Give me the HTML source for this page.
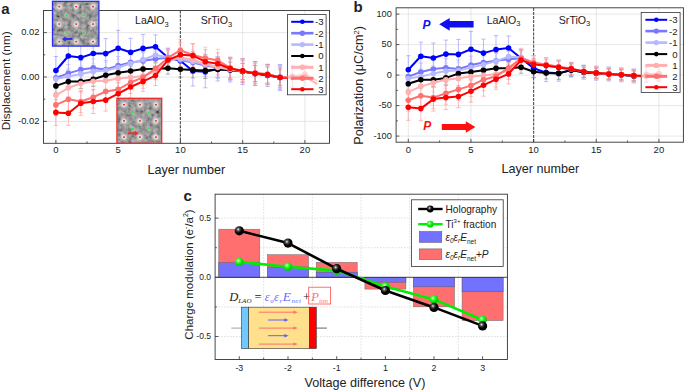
<!DOCTYPE html><html><head><meta charset="utf-8"><style>html,body{margin:0;padding:0;background:#fff;}svg{display:block;}svg{font-family:"Liberation Sans",sans-serif;}text:not([fill]){fill:#222;}</style></head><body>
<svg width="685" height="391" viewBox="0 0 685 391">
<rect width="685" height="391" fill="#fff"/>
<defs>
<filter id="noise" x="0" y="0" width="100%" height="100%"><feTurbulence type="fractalNoise" baseFrequency="0.28" numOctaves="2" seed="3" result="t"/><feColorMatrix type="matrix" values="0.33 0.33 0.33 0 0  0.33 0.33 0.33 0 0  0.33 0.33 0.33 0 0  0 0 0 0 1"/><feComponentTransfer><feFuncR type="linear" slope="2.2" intercept="-0.6"/><feFuncG type="linear" slope="2.2" intercept="-0.6"/><feFuncB type="linear" slope="2.2" intercept="-0.6"/></feComponentTransfer></filter>
<radialGradient id="atom"><stop offset="0" stop-color="#fff" stop-opacity="0.95"/><stop offset="0.3" stop-color="#f4f4f4" stop-opacity="0.7"/><stop offset="0.6" stop-color="#ccc" stop-opacity="0.3"/><stop offset="1" stop-color="#888" stop-opacity="0"/></radialGradient>
<radialGradient id="ballK" cx="0.38" cy="0.35" r="0.65"><stop offset="0" stop-color="#f0f0f0"/><stop offset="0.25" stop-color="#555"/><stop offset="0.6" stop-color="#000"/><stop offset="1" stop-color="#000"/></radialGradient>
<radialGradient id="ballG" cx="0.38" cy="0.35" r="0.65"><stop offset="0" stop-color="#d8ffd8"/><stop offset="0.3" stop-color="#40ff40"/><stop offset="0.7" stop-color="#00e000"/><stop offset="1" stop-color="#00d000"/></radialGradient>
<clipPath id="clipA"><rect x="43.5" y="10.5" width="286" height="132.8"/></clipPath>
<clipPath id="clipB"><rect x="396.1" y="7.8" width="287.3" height="134.4"/></clipPath>
</defs>
<line x1="55.9" y1="10.5" x2="55.9" y2="143.3" stroke="#dcdcdc" stroke-width="0.7"/>
<line x1="118.15" y1="10.5" x2="118.15" y2="143.3" stroke="#dcdcdc" stroke-width="0.7"/>
<line x1="242.65" y1="10.5" x2="242.65" y2="143.3" stroke="#dcdcdc" stroke-width="0.7"/>
<line x1="304.9" y1="10.5" x2="304.9" y2="143.3" stroke="#dcdcdc" stroke-width="0.7"/>
<line x1="43.5" y1="32.6" x2="329.5" y2="32.6" stroke="#dcdcdc" stroke-width="0.7"/>
<line x1="43.5" y1="77" x2="329.5" y2="77" stroke="#dcdcdc" stroke-width="0.7"/>
<line x1="43.5" y1="121.4" x2="329.5" y2="121.4" stroke="#dcdcdc" stroke-width="0.7"/>
<line x1="180.4" y1="10.5" x2="180.4" y2="143.3" stroke="#5a5a5a" stroke-width="1.2" stroke-dasharray="3,1.1"/>
<g clip-path="url(#clipA)">
<path d="M55.9 56.5V84.5M53.7 56.5H58.1M53.7 84.5H58.1" stroke="#8080ff" stroke-width="0.7" fill="none" opacity="0.75"/>
<path d="M68.35 42V70M66.15 42H70.55M66.15 70H70.55" stroke="#8080ff" stroke-width="0.7" fill="none" opacity="0.75"/>
<path d="M80.8 42.6V72.6M78.6 42.6H83M78.6 72.6H83" stroke="#8080ff" stroke-width="0.7" fill="none" opacity="0.75"/>
<path d="M93.25 39.5V67.5M91.05 39.5H95.45M91.05 67.5H95.45" stroke="#8080ff" stroke-width="0.7" fill="none" opacity="0.75"/>
<path d="M105.7 38.6V68.6M103.5 38.6H107.9M103.5 68.6H107.9" stroke="#8080ff" stroke-width="0.7" fill="none" opacity="0.75"/>
<path d="M118.15 30.3V66.3M115.95 30.3H120.35M115.95 66.3H120.35" stroke="#8080ff" stroke-width="0.7" fill="none" opacity="0.75"/>
<path d="M130.6 38.3V66.3M128.4 38.3H132.8M128.4 66.3H132.8" stroke="#8080ff" stroke-width="0.7" fill="none" opacity="0.75"/>
<path d="M143.05 34.4V62.4M140.85 34.4H145.25M140.85 62.4H145.25" stroke="#8080ff" stroke-width="0.7" fill="none" opacity="0.75"/>
<path d="M155.5 34.8V58.8M153.3 34.8H157.7M153.3 58.8H157.7" stroke="#8080ff" stroke-width="0.7" fill="none" opacity="0.75"/>
<path d="M167.95 48.5V66.5M165.75 48.5H170.15M165.75 66.5H170.15" stroke="#8080ff" stroke-width="0.7" fill="none" opacity="0.75"/>
<path d="M180.4 50.8V70.8M178.2 50.8H182.6M178.2 70.8H182.6" stroke="#8080ff" stroke-width="0.7" fill="none" opacity="0.75"/>
<path d="M192.85 56V86M190.65 56H195.05M190.65 86H195.05" stroke="#8080ff" stroke-width="0.7" fill="none" opacity="0.75"/>
<path d="M205.3 55.8V87.8M203.1 55.8H207.5M203.1 87.8H207.5" stroke="#8080ff" stroke-width="0.7" fill="none" opacity="0.75"/>
<path d="M217.75 57V81M215.55 57H219.95M215.55 81H219.95" stroke="#8080ff" stroke-width="0.7" fill="none" opacity="0.75"/>
<path d="M230.2 58V82M228 58H232.4M228 82H232.4" stroke="#8080ff" stroke-width="0.7" fill="none" opacity="0.75"/>
<path d="M242.65 58.5V84.5M240.45 58.5H244.85M240.45 84.5H244.85" stroke="#8080ff" stroke-width="0.7" fill="none" opacity="0.75"/>
<path d="M255.1 61.5V85.5M252.9 61.5H257.3M252.9 85.5H257.3" stroke="#8080ff" stroke-width="0.7" fill="none" opacity="0.75"/>
<path d="M267.55 64.5V86.5M265.35 64.5H269.75M265.35 86.5H269.75" stroke="#8080ff" stroke-width="0.7" fill="none" opacity="0.75"/>
<path d="M280 64.5V90.5M277.8 64.5H282.2M277.8 90.5H282.2" stroke="#8080ff" stroke-width="0.7" fill="none" opacity="0.75"/>
<path d="M292.45 70V86M290.25 70H294.65M290.25 86H294.65" stroke="#8080ff" stroke-width="0.7" fill="none" opacity="0.75"/>
<path d="M304.9 70V86M302.7 70H307.1M302.7 86H307.1" stroke="#8080ff" stroke-width="0.7" fill="none" opacity="0.75"/>
<path d="M55.9 68.8V86.8M53.7 68.8H58.1M53.7 86.8H58.1" stroke="#a0a0ff" stroke-width="0.7" fill="none" opacity="0.75"/>
<path d="M68.35 64.4V82.4M66.15 64.4H70.55M66.15 82.4H70.55" stroke="#a0a0ff" stroke-width="0.7" fill="none" opacity="0.75"/>
<path d="M80.8 60.6V78.6M78.6 60.6H83M78.6 78.6H83" stroke="#a0a0ff" stroke-width="0.7" fill="none" opacity="0.75"/>
<path d="M93.25 58.9V76.9M91.05 58.9H95.45M91.05 76.9H95.45" stroke="#a0a0ff" stroke-width="0.7" fill="none" opacity="0.75"/>
<path d="M105.7 60.5V78.5M103.5 60.5H107.9M103.5 78.5H107.9" stroke="#a0a0ff" stroke-width="0.7" fill="none" opacity="0.75"/>
<path d="M118.15 56.6V74.6M115.95 56.6H120.35M115.95 74.6H120.35" stroke="#a0a0ff" stroke-width="0.7" fill="none" opacity="0.75"/>
<path d="M130.6 53.4V71.4M128.4 53.4H132.8M128.4 71.4H132.8" stroke="#a0a0ff" stroke-width="0.7" fill="none" opacity="0.75"/>
<path d="M143.05 52.7V68.7M140.85 52.7H145.25M140.85 68.7H145.25" stroke="#a0a0ff" stroke-width="0.7" fill="none" opacity="0.75"/>
<path d="M155.5 51V67M153.3 51H157.7M153.3 67H157.7" stroke="#a0a0ff" stroke-width="0.7" fill="none" opacity="0.75"/>
<path d="M167.95 49.8V65.8M165.75 49.8H170.15M165.75 65.8H170.15" stroke="#a0a0ff" stroke-width="0.7" fill="none" opacity="0.75"/>
<path d="M180.4 51.1V69.1M178.2 51.1H182.6M178.2 69.1H182.6" stroke="#a0a0ff" stroke-width="0.7" fill="none" opacity="0.75"/>
<path d="M192.85 51.5V73.5M190.65 51.5H195.05M190.65 73.5H195.05" stroke="#a0a0ff" stroke-width="0.7" fill="none" opacity="0.75"/>
<path d="M205.3 54.5V76.5M203.1 54.5H207.5M203.1 76.5H207.5" stroke="#a0a0ff" stroke-width="0.7" fill="none" opacity="0.75"/>
<path d="M217.75 56.6V78.6M215.55 56.6H219.95M215.55 78.6H219.95" stroke="#a0a0ff" stroke-width="0.7" fill="none" opacity="0.75"/>
<path d="M230.2 58.5V80.5M228 58.5H232.4M228 80.5H232.4" stroke="#a0a0ff" stroke-width="0.7" fill="none" opacity="0.75"/>
<path d="M242.65 60.2V82.2M240.45 60.2H244.85M240.45 82.2H244.85" stroke="#a0a0ff" stroke-width="0.7" fill="none" opacity="0.75"/>
<path d="M255.1 63.2V83.2M252.9 63.2H257.3M252.9 83.2H257.3" stroke="#a0a0ff" stroke-width="0.7" fill="none" opacity="0.75"/>
<path d="M267.55 64.8V84.8M265.35 64.8H269.75M265.35 84.8H269.75" stroke="#a0a0ff" stroke-width="0.7" fill="none" opacity="0.75"/>
<path d="M280 66.3V88.3M277.8 66.3H282.2M277.8 88.3H282.2" stroke="#a0a0ff" stroke-width="0.7" fill="none" opacity="0.75"/>
<path d="M292.45 69.5V85.5M290.25 69.5H294.65M290.25 85.5H294.65" stroke="#a0a0ff" stroke-width="0.7" fill="none" opacity="0.75"/>
<path d="M304.9 70V86M302.7 70H307.1M302.7 86H307.1" stroke="#a0a0ff" stroke-width="0.7" fill="none" opacity="0.75"/>
<path d="M55.9 71V87M53.7 71H58.1M53.7 87H58.1" stroke="#c8c8ff" stroke-width="0.7" fill="none" opacity="0.75"/>
<path d="M68.35 68.5V84.5M66.15 68.5H70.55M66.15 84.5H70.55" stroke="#c8c8ff" stroke-width="0.7" fill="none" opacity="0.75"/>
<path d="M80.8 65.9V81.9M78.6 65.9H83M78.6 81.9H83" stroke="#c8c8ff" stroke-width="0.7" fill="none" opacity="0.75"/>
<path d="M93.25 63.4V79.4M91.05 63.4H95.45M91.05 79.4H95.45" stroke="#c8c8ff" stroke-width="0.7" fill="none" opacity="0.75"/>
<path d="M105.7 62.5V78.5M103.5 62.5H107.9M103.5 78.5H107.9" stroke="#c8c8ff" stroke-width="0.7" fill="none" opacity="0.75"/>
<path d="M118.15 59.5V75.5M115.95 59.5H120.35M115.95 75.5H120.35" stroke="#c8c8ff" stroke-width="0.7" fill="none" opacity="0.75"/>
<path d="M130.6 55.5V71.5M128.4 55.5H132.8M128.4 71.5H132.8" stroke="#c8c8ff" stroke-width="0.7" fill="none" opacity="0.75"/>
<path d="M143.05 51.6V67.6M140.85 51.6H145.25M140.85 67.6H145.25" stroke="#c8c8ff" stroke-width="0.7" fill="none" opacity="0.75"/>
<path d="M155.5 47V63M153.3 47H157.7M153.3 63H157.7" stroke="#c8c8ff" stroke-width="0.7" fill="none" opacity="0.75"/>
<path d="M167.95 49.3V65.3M165.75 49.3H170.15M165.75 65.3H170.15" stroke="#c8c8ff" stroke-width="0.7" fill="none" opacity="0.75"/>
<path d="M180.4 51V67M178.2 51H182.6M178.2 67H182.6" stroke="#c8c8ff" stroke-width="0.7" fill="none" opacity="0.75"/>
<path d="M192.85 51.5V71.5M190.65 51.5H195.05M190.65 71.5H195.05" stroke="#c8c8ff" stroke-width="0.7" fill="none" opacity="0.75"/>
<path d="M205.3 54.5V74.5M203.1 54.5H207.5M203.1 74.5H207.5" stroke="#c8c8ff" stroke-width="0.7" fill="none" opacity="0.75"/>
<path d="M217.75 57V77M215.55 57H219.95M215.55 77H219.95" stroke="#c8c8ff" stroke-width="0.7" fill="none" opacity="0.75"/>
<path d="M230.2 59.5V79.5M228 59.5H232.4M228 79.5H232.4" stroke="#c8c8ff" stroke-width="0.7" fill="none" opacity="0.75"/>
<path d="M242.65 61.2V81.2M240.45 61.2H244.85M240.45 81.2H244.85" stroke="#c8c8ff" stroke-width="0.7" fill="none" opacity="0.75"/>
<path d="M255.1 63.2V83.2M252.9 63.2H257.3M252.9 83.2H257.3" stroke="#c8c8ff" stroke-width="0.7" fill="none" opacity="0.75"/>
<path d="M267.55 65.8V83.8M265.35 65.8H269.75M265.35 83.8H269.75" stroke="#c8c8ff" stroke-width="0.7" fill="none" opacity="0.75"/>
<path d="M280 67.3V87.3M277.8 67.3H282.2M277.8 87.3H282.2" stroke="#c8c8ff" stroke-width="0.7" fill="none" opacity="0.75"/>
<path d="M292.45 69.5V85.5M290.25 69.5H294.65M290.25 85.5H294.65" stroke="#c8c8ff" stroke-width="0.7" fill="none" opacity="0.75"/>
<path d="M304.9 70V86M302.7 70H307.1M302.7 86H307.1" stroke="#c8c8ff" stroke-width="0.7" fill="none" opacity="0.75"/>
<path d="M55.9 78.9V92.9M53.7 78.9H58.1M53.7 92.9H58.1" stroke="#707070" stroke-width="0.7" fill="none" opacity="0.75"/>
<path d="M68.35 74.6V88.6M66.15 74.6H70.55M66.15 88.6H70.55" stroke="#707070" stroke-width="0.7" fill="none" opacity="0.75"/>
<path d="M80.8 74.6V88.6M78.6 74.6H83M78.6 88.6H83" stroke="#707070" stroke-width="0.7" fill="none" opacity="0.75"/>
<path d="M93.25 72.3V86.3M91.05 72.3H95.45M91.05 86.3H95.45" stroke="#707070" stroke-width="0.7" fill="none" opacity="0.75"/>
<path d="M105.7 68.2V82.2M103.5 68.2H107.9M103.5 82.2H107.9" stroke="#707070" stroke-width="0.7" fill="none" opacity="0.75"/>
<path d="M118.15 65.8V79.8M115.95 65.8H120.35M115.95 79.8H120.35" stroke="#707070" stroke-width="0.7" fill="none" opacity="0.75"/>
<path d="M130.6 64V78M128.4 64H132.8M128.4 78H132.8" stroke="#707070" stroke-width="0.7" fill="none" opacity="0.75"/>
<path d="M143.05 63V75M140.85 63H145.25M140.85 75H145.25" stroke="#707070" stroke-width="0.7" fill="none" opacity="0.75"/>
<path d="M155.5 62.8V74.8M153.3 62.8H157.7M153.3 74.8H157.7" stroke="#707070" stroke-width="0.7" fill="none" opacity="0.75"/>
<path d="M167.95 62.2V74.2M165.75 62.2H170.15M165.75 74.2H170.15" stroke="#707070" stroke-width="0.7" fill="none" opacity="0.75"/>
<path d="M180.4 61.2V77.2M178.2 61.2H182.6M178.2 77.2H182.6" stroke="#707070" stroke-width="0.7" fill="none" opacity="0.75"/>
<path d="M192.85 61.9V77.9M190.65 61.9H195.05M190.65 77.9H195.05" stroke="#707070" stroke-width="0.7" fill="none" opacity="0.75"/>
<path d="M205.3 62.5V78.5M203.1 62.5H207.5M203.1 78.5H207.5" stroke="#707070" stroke-width="0.7" fill="none" opacity="0.75"/>
<path d="M217.75 61.5V77.5M215.55 61.5H219.95M215.55 77.5H219.95" stroke="#707070" stroke-width="0.7" fill="none" opacity="0.75"/>
<path d="M230.2 62V78M228 62H232.4M228 78H232.4" stroke="#707070" stroke-width="0.7" fill="none" opacity="0.75"/>
<path d="M242.65 63.5V79.5M240.45 63.5H244.85M240.45 79.5H244.85" stroke="#707070" stroke-width="0.7" fill="none" opacity="0.75"/>
<path d="M255.1 65.5V81.5M252.9 65.5H257.3M252.9 81.5H257.3" stroke="#707070" stroke-width="0.7" fill="none" opacity="0.75"/>
<path d="M267.55 67V83M265.35 67H269.75M265.35 83H269.75" stroke="#707070" stroke-width="0.7" fill="none" opacity="0.75"/>
<path d="M280 69.3V85.3M277.8 69.3H282.2M277.8 85.3H282.2" stroke="#707070" stroke-width="0.7" fill="none" opacity="0.75"/>
<path d="M292.45 71V83M290.25 71H294.65M290.25 83H294.65" stroke="#707070" stroke-width="0.7" fill="none" opacity="0.75"/>
<path d="M304.9 71.5V83.5M302.7 71.5H307.1M302.7 83.5H307.1" stroke="#707070" stroke-width="0.7" fill="none" opacity="0.75"/>
<path d="M55.9 86.3V104.3M53.7 86.3H58.1M53.7 104.3H58.1" stroke="#ffc0c0" stroke-width="0.7" fill="none" opacity="0.75"/>
<path d="M68.35 78.8V96.8M66.15 78.8H70.55M66.15 96.8H70.55" stroke="#ffc0c0" stroke-width="0.7" fill="none" opacity="0.75"/>
<path d="M80.8 74.5V92.5M78.6 74.5H83M78.6 92.5H83" stroke="#ffc0c0" stroke-width="0.7" fill="none" opacity="0.75"/>
<path d="M93.25 72.2V90.2M91.05 72.2H95.45M91.05 90.2H95.45" stroke="#ffc0c0" stroke-width="0.7" fill="none" opacity="0.75"/>
<path d="M105.7 71.7V89.7M103.5 71.7H107.9M103.5 89.7H107.9" stroke="#ffc0c0" stroke-width="0.7" fill="none" opacity="0.75"/>
<path d="M118.15 69.6V87.6M115.95 69.6H120.35M115.95 87.6H120.35" stroke="#ffc0c0" stroke-width="0.7" fill="none" opacity="0.75"/>
<path d="M130.6 68.4V86.4M128.4 68.4H132.8M128.4 86.4H132.8" stroke="#ffc0c0" stroke-width="0.7" fill="none" opacity="0.75"/>
<path d="M143.05 67.1V85.1M140.85 67.1H145.25M140.85 85.1H145.25" stroke="#ffc0c0" stroke-width="0.7" fill="none" opacity="0.75"/>
<path d="M155.5 62V80M153.3 62H157.7M153.3 80H157.7" stroke="#ffc0c0" stroke-width="0.7" fill="none" opacity="0.75"/>
<path d="M167.95 52V70M165.75 52H170.15M165.75 70H170.15" stroke="#ffc0c0" stroke-width="0.7" fill="none" opacity="0.75"/>
<path d="M180.4 47.4V67.4M178.2 47.4H182.6M178.2 67.4H182.6" stroke="#ffc0c0" stroke-width="0.7" fill="none" opacity="0.75"/>
<path d="M192.85 49.7V69.7M190.65 49.7H195.05M190.65 69.7H195.05" stroke="#ffc0c0" stroke-width="0.7" fill="none" opacity="0.75"/>
<path d="M205.3 53.8V73.8M203.1 53.8H207.5M203.1 73.8H207.5" stroke="#ffc0c0" stroke-width="0.7" fill="none" opacity="0.75"/>
<path d="M217.75 57.5V77.5M215.55 57.5H219.95M215.55 77.5H219.95" stroke="#ffc0c0" stroke-width="0.7" fill="none" opacity="0.75"/>
<path d="M230.2 59.5V79.5M228 59.5H232.4M228 79.5H232.4" stroke="#ffc0c0" stroke-width="0.7" fill="none" opacity="0.75"/>
<path d="M242.65 61.2V81.2M240.45 61.2H244.85M240.45 81.2H244.85" stroke="#ffc0c0" stroke-width="0.7" fill="none" opacity="0.75"/>
<path d="M255.1 63.2V83.2M252.9 63.2H257.3M252.9 83.2H257.3" stroke="#ffc0c0" stroke-width="0.7" fill="none" opacity="0.75"/>
<path d="M267.55 65.6V83.6M265.35 65.6H269.75M265.35 83.6H269.75" stroke="#ffc0c0" stroke-width="0.7" fill="none" opacity="0.75"/>
<path d="M280 68.3V86.3M277.8 68.3H282.2M277.8 86.3H282.2" stroke="#ffc0c0" stroke-width="0.7" fill="none" opacity="0.75"/>
<path d="M292.45 70V84M290.25 70H294.65M290.25 84H294.65" stroke="#ffc0c0" stroke-width="0.7" fill="none" opacity="0.75"/>
<path d="M304.9 71V85M302.7 71H307.1M302.7 85H307.1" stroke="#ffc0c0" stroke-width="0.7" fill="none" opacity="0.75"/>
<path d="M55.9 93.9V115.9M53.7 93.9H58.1M53.7 115.9H58.1" stroke="#ff9898" stroke-width="0.7" fill="none" opacity="0.75"/>
<path d="M68.35 88.3V110.3M66.15 88.3H70.55M66.15 110.3H70.55" stroke="#ff9898" stroke-width="0.7" fill="none" opacity="0.75"/>
<path d="M80.8 90.5V112.5M78.6 90.5H83M78.6 112.5H83" stroke="#ff9898" stroke-width="0.7" fill="none" opacity="0.75"/>
<path d="M93.25 86.2V108.2M91.05 86.2H95.45M91.05 108.2H95.45" stroke="#ff9898" stroke-width="0.7" fill="none" opacity="0.75"/>
<path d="M105.7 80.5V102.5M103.5 80.5H107.9M103.5 102.5H107.9" stroke="#ff9898" stroke-width="0.7" fill="none" opacity="0.75"/>
<path d="M118.15 78.4V100.4M115.95 78.4H120.35M115.95 100.4H120.35" stroke="#ff9898" stroke-width="0.7" fill="none" opacity="0.75"/>
<path d="M130.6 71.5V93.5M128.4 71.5H132.8M128.4 93.5H132.8" stroke="#ff9898" stroke-width="0.7" fill="none" opacity="0.75"/>
<path d="M143.05 66.4V88.4M140.85 66.4H145.25M140.85 88.4H145.25" stroke="#ff9898" stroke-width="0.7" fill="none" opacity="0.75"/>
<path d="M155.5 57.5V79.5M153.3 57.5H157.7M153.3 79.5H157.7" stroke="#ff9898" stroke-width="0.7" fill="none" opacity="0.75"/>
<path d="M167.95 47.9V67.9M165.75 47.9H170.15M165.75 67.9H170.15" stroke="#ff9898" stroke-width="0.7" fill="none" opacity="0.75"/>
<path d="M180.4 39.2V61.2M178.2 39.2H182.6M178.2 61.2H182.6" stroke="#ff9898" stroke-width="0.7" fill="none" opacity="0.75"/>
<path d="M192.85 44V66M190.65 44H195.05M190.65 66H195.05" stroke="#ff9898" stroke-width="0.7" fill="none" opacity="0.75"/>
<path d="M205.3 47.2V69.2M203.1 47.2H207.5M203.1 69.2H207.5" stroke="#ff9898" stroke-width="0.7" fill="none" opacity="0.75"/>
<path d="M217.75 49.3V71.3M215.55 49.3H219.95M215.55 71.3H219.95" stroke="#ff9898" stroke-width="0.7" fill="none" opacity="0.75"/>
<path d="M230.2 56.9V78.9M228 56.9H232.4M228 78.9H232.4" stroke="#ff9898" stroke-width="0.7" fill="none" opacity="0.75"/>
<path d="M242.65 59.9V81.9M240.45 59.9H244.85M240.45 81.9H244.85" stroke="#ff9898" stroke-width="0.7" fill="none" opacity="0.75"/>
<path d="M255.1 62V84M252.9 62H257.3M252.9 84H257.3" stroke="#ff9898" stroke-width="0.7" fill="none" opacity="0.75"/>
<path d="M267.55 64V84M265.35 64H269.75M265.35 84H269.75" stroke="#ff9898" stroke-width="0.7" fill="none" opacity="0.75"/>
<path d="M280 67.5V87.5M277.8 67.5H282.2M277.8 87.5H282.2" stroke="#ff9898" stroke-width="0.7" fill="none" opacity="0.75"/>
<path d="M292.45 70V84M290.25 70H294.65M290.25 84H294.65" stroke="#ff9898" stroke-width="0.7" fill="none" opacity="0.75"/>
<path d="M304.9 71V85M302.7 71H307.1M302.7 85H307.1" stroke="#ff9898" stroke-width="0.7" fill="none" opacity="0.75"/>
<path d="M55.9 99.4V125.4M53.7 99.4H58.1M53.7 125.4H58.1" stroke="#ff8080" stroke-width="0.7" fill="none" opacity="0.75"/>
<path d="M68.35 101.3V125.3M66.15 101.3H70.55M66.15 125.3H70.55" stroke="#ff8080" stroke-width="0.7" fill="none" opacity="0.75"/>
<path d="M80.8 91.3V115.3M78.6 91.3H83M78.6 115.3H83" stroke="#ff8080" stroke-width="0.7" fill="none" opacity="0.75"/>
<path d="M93.25 89.5V113.5M91.05 89.5H95.45M91.05 113.5H95.45" stroke="#ff8080" stroke-width="0.7" fill="none" opacity="0.75"/>
<path d="M105.7 89.1V111.1M103.5 89.1H107.9M103.5 111.1H107.9" stroke="#ff8080" stroke-width="0.7" fill="none" opacity="0.75"/>
<path d="M118.15 82.7V104.7M115.95 82.7H120.35M115.95 104.7H120.35" stroke="#ff8080" stroke-width="0.7" fill="none" opacity="0.75"/>
<path d="M130.6 76V98M128.4 76H132.8M128.4 98H132.8" stroke="#ff8080" stroke-width="0.7" fill="none" opacity="0.75"/>
<path d="M143.05 71.4V91.4M140.85 71.4H145.25M140.85 91.4H145.25" stroke="#ff8080" stroke-width="0.7" fill="none" opacity="0.75"/>
<path d="M155.5 65.6V85.6M153.3 65.6H157.7M153.3 85.6H157.7" stroke="#ff8080" stroke-width="0.7" fill="none" opacity="0.75"/>
<path d="M167.95 50V70M165.75 50H170.15M165.75 70H170.15" stroke="#ff8080" stroke-width="0.7" fill="none" opacity="0.75"/>
<path d="M180.4 42.8V66.8M178.2 42.8H182.6M178.2 66.8H182.6" stroke="#ff8080" stroke-width="0.7" fill="none" opacity="0.75"/>
<path d="M192.85 43.6V67.6M190.65 43.6H195.05M190.65 67.6H195.05" stroke="#ff8080" stroke-width="0.7" fill="none" opacity="0.75"/>
<path d="M205.3 49.7V73.7M203.1 49.7H207.5M203.1 73.7H207.5" stroke="#ff8080" stroke-width="0.7" fill="none" opacity="0.75"/>
<path d="M217.75 52.8V74.8M215.55 52.8H219.95M215.55 74.8H219.95" stroke="#ff8080" stroke-width="0.7" fill="none" opacity="0.75"/>
<path d="M230.2 57.5V79.5M228 57.5H232.4M228 79.5H232.4" stroke="#ff8080" stroke-width="0.7" fill="none" opacity="0.75"/>
<path d="M242.65 58.9V82.9M240.45 58.9H244.85M240.45 82.9H244.85" stroke="#ff8080" stroke-width="0.7" fill="none" opacity="0.75"/>
<path d="M255.1 61.4V85.4M252.9 61.4H257.3M252.9 85.4H257.3" stroke="#ff8080" stroke-width="0.7" fill="none" opacity="0.75"/>
<path d="M267.55 64.6V84.6M265.35 64.6H269.75M265.35 84.6H269.75" stroke="#ff8080" stroke-width="0.7" fill="none" opacity="0.75"/>
<path d="M280 65.5V89.5M277.8 65.5H282.2M277.8 89.5H282.2" stroke="#ff8080" stroke-width="0.7" fill="none" opacity="0.75"/>
<path d="M292.45 71.3V85.3M290.25 71.3H294.65M290.25 85.3H294.65" stroke="#ff8080" stroke-width="0.7" fill="none" opacity="0.75"/>
<path d="M304.9 71.5V85.5M302.7 71.5H307.1M302.7 85.5H307.1" stroke="#ff8080" stroke-width="0.7" fill="none" opacity="0.75"/>
<polyline points="55.9,70.5 68.35,56 80.8,57.6 93.25,53.5 105.7,53.6 118.15,48.3 130.6,52.3 143.05,48.4 155.5,46.8 167.95,57.5 180.4,60.8 192.85,71 205.3,71.8 217.75,69 230.2,70 242.65,71.5 255.1,73.5 267.55,75.5 280,77.5 292.45,78 304.9,78" fill="none" stroke="#0000ff" stroke-width="2.0" stroke-linejoin="round"/>
<circle cx="55.9" cy="70.5" r="2.8" fill="#0000ff"/>
<circle cx="68.35" cy="56" r="2.8" fill="#0000ff"/>
<circle cx="80.8" cy="57.6" r="2.8" fill="#0000ff"/>
<circle cx="93.25" cy="53.5" r="2.8" fill="#0000ff"/>
<circle cx="105.7" cy="53.6" r="2.8" fill="#0000ff"/>
<circle cx="118.15" cy="48.3" r="2.8" fill="#0000ff"/>
<circle cx="130.6" cy="52.3" r="2.8" fill="#0000ff"/>
<circle cx="143.05" cy="48.4" r="2.8" fill="#0000ff"/>
<circle cx="155.5" cy="46.8" r="2.8" fill="#0000ff"/>
<circle cx="167.95" cy="57.5" r="2.8" fill="#0000ff"/>
<circle cx="180.4" cy="60.8" r="2.8" fill="#0000ff"/>
<circle cx="192.85" cy="71" r="2.8" fill="#0000ff"/>
<circle cx="205.3" cy="71.8" r="2.8" fill="#0000ff"/>
<circle cx="217.75" cy="69" r="2.8" fill="#0000ff"/>
<circle cx="230.2" cy="70" r="2.8" fill="#0000ff"/>
<circle cx="242.65" cy="71.5" r="2.8" fill="#0000ff"/>
<circle cx="255.1" cy="73.5" r="2.8" fill="#0000ff"/>
<circle cx="267.55" cy="75.5" r="2.8" fill="#0000ff"/>
<circle cx="280" cy="77.5" r="2.8" fill="#0000ff"/>
<circle cx="292.45" cy="78" r="2.8" fill="#0000ff"/>
<circle cx="304.9" cy="78" r="2.8" fill="#0000ff"/>
<polyline points="55.9,77.8 68.35,73.4 80.8,69.6 93.25,67.9 105.7,69.5 118.15,65.6 130.6,62.4 143.05,60.7 155.5,59 167.95,57.8 180.4,60.1 192.85,62.5 205.3,65.5 217.75,67.6 230.2,69.5 242.65,71.2 255.1,73.2 267.55,74.8 280,77.3 292.45,77.5 304.9,78" fill="none" stroke="#7878ff" stroke-width="2.0" stroke-linejoin="round"/>
<circle cx="55.9" cy="77.8" r="2.8" fill="#7878ff"/>
<circle cx="68.35" cy="73.4" r="2.8" fill="#7878ff"/>
<circle cx="80.8" cy="69.6" r="2.8" fill="#7878ff"/>
<circle cx="93.25" cy="67.9" r="2.8" fill="#7878ff"/>
<circle cx="105.7" cy="69.5" r="2.8" fill="#7878ff"/>
<circle cx="118.15" cy="65.6" r="2.8" fill="#7878ff"/>
<circle cx="130.6" cy="62.4" r="2.8" fill="#7878ff"/>
<circle cx="143.05" cy="60.7" r="2.8" fill="#7878ff"/>
<circle cx="155.5" cy="59" r="2.8" fill="#7878ff"/>
<circle cx="167.95" cy="57.8" r="2.8" fill="#7878ff"/>
<circle cx="180.4" cy="60.1" r="2.8" fill="#7878ff"/>
<circle cx="192.85" cy="62.5" r="2.8" fill="#7878ff"/>
<circle cx="205.3" cy="65.5" r="2.8" fill="#7878ff"/>
<circle cx="217.75" cy="67.6" r="2.8" fill="#7878ff"/>
<circle cx="230.2" cy="69.5" r="2.8" fill="#7878ff"/>
<circle cx="242.65" cy="71.2" r="2.8" fill="#7878ff"/>
<circle cx="255.1" cy="73.2" r="2.8" fill="#7878ff"/>
<circle cx="267.55" cy="74.8" r="2.8" fill="#7878ff"/>
<circle cx="280" cy="77.3" r="2.8" fill="#7878ff"/>
<circle cx="292.45" cy="77.5" r="2.8" fill="#7878ff"/>
<circle cx="304.9" cy="78" r="2.8" fill="#7878ff"/>
<polyline points="55.9,79 68.35,76.5 80.8,73.9 93.25,71.4 105.7,70.5 118.15,67.5 130.6,63.5 143.05,59.6 155.5,55 167.95,57.3 180.4,59 192.85,61.5 205.3,64.5 217.75,67 230.2,69.5 242.65,71.2 255.1,73.2 267.55,74.8 280,77.3 292.45,77.5 304.9,78" fill="none" stroke="#b8b8ff" stroke-width="2.0" stroke-linejoin="round"/>
<circle cx="55.9" cy="79" r="2.8" fill="#b8b8ff"/>
<circle cx="68.35" cy="76.5" r="2.8" fill="#b8b8ff"/>
<circle cx="80.8" cy="73.9" r="2.8" fill="#b8b8ff"/>
<circle cx="93.25" cy="71.4" r="2.8" fill="#b8b8ff"/>
<circle cx="105.7" cy="70.5" r="2.8" fill="#b8b8ff"/>
<circle cx="118.15" cy="67.5" r="2.8" fill="#b8b8ff"/>
<circle cx="130.6" cy="63.5" r="2.8" fill="#b8b8ff"/>
<circle cx="143.05" cy="59.6" r="2.8" fill="#b8b8ff"/>
<circle cx="155.5" cy="55" r="2.8" fill="#b8b8ff"/>
<circle cx="167.95" cy="57.3" r="2.8" fill="#b8b8ff"/>
<circle cx="180.4" cy="59" r="2.8" fill="#b8b8ff"/>
<circle cx="192.85" cy="61.5" r="2.8" fill="#b8b8ff"/>
<circle cx="205.3" cy="64.5" r="2.8" fill="#b8b8ff"/>
<circle cx="217.75" cy="67" r="2.8" fill="#b8b8ff"/>
<circle cx="230.2" cy="69.5" r="2.8" fill="#b8b8ff"/>
<circle cx="242.65" cy="71.2" r="2.8" fill="#b8b8ff"/>
<circle cx="255.1" cy="73.2" r="2.8" fill="#b8b8ff"/>
<circle cx="267.55" cy="74.8" r="2.8" fill="#b8b8ff"/>
<circle cx="280" cy="77.3" r="2.8" fill="#b8b8ff"/>
<circle cx="292.45" cy="77.5" r="2.8" fill="#b8b8ff"/>
<circle cx="304.9" cy="78" r="2.8" fill="#b8b8ff"/>
<polyline points="55.9,85.9 68.35,81.6 80.8,81.6 93.25,79.3 105.7,75.2 118.15,72.8 130.6,71 143.05,69 155.5,68.8 167.95,68.2 180.4,69.2 192.85,69.9 205.3,70.5 217.75,69.5 230.2,70 242.65,71.5 255.1,73.5 267.55,75 280,77.3 292.45,77 304.9,77.5" fill="none" stroke="#000000" stroke-width="2.0" stroke-linejoin="round"/>
<circle cx="55.9" cy="85.9" r="2.8" fill="#000000"/>
<circle cx="68.35" cy="81.6" r="2.8" fill="#000000"/>
<circle cx="80.8" cy="81.6" r="2.8" fill="#000000"/>
<circle cx="93.25" cy="79.3" r="2.8" fill="#000000"/>
<circle cx="105.7" cy="75.2" r="2.8" fill="#000000"/>
<circle cx="118.15" cy="72.8" r="2.8" fill="#000000"/>
<circle cx="130.6" cy="71" r="2.8" fill="#000000"/>
<circle cx="143.05" cy="69" r="2.8" fill="#000000"/>
<circle cx="155.5" cy="68.8" r="2.8" fill="#000000"/>
<circle cx="167.95" cy="68.2" r="2.8" fill="#000000"/>
<circle cx="180.4" cy="69.2" r="2.8" fill="#000000"/>
<circle cx="192.85" cy="69.9" r="2.8" fill="#000000"/>
<circle cx="205.3" cy="70.5" r="2.8" fill="#000000"/>
<circle cx="217.75" cy="69.5" r="2.8" fill="#000000"/>
<circle cx="230.2" cy="70" r="2.8" fill="#000000"/>
<circle cx="242.65" cy="71.5" r="2.8" fill="#000000"/>
<circle cx="255.1" cy="73.5" r="2.8" fill="#000000"/>
<circle cx="267.55" cy="75" r="2.8" fill="#000000"/>
<circle cx="280" cy="77.3" r="2.8" fill="#000000"/>
<circle cx="292.45" cy="77" r="2.8" fill="#000000"/>
<circle cx="304.9" cy="77.5" r="2.8" fill="#000000"/>
<polyline points="55.9,95.3 68.35,87.8 80.8,83.5 93.25,81.2 105.7,80.7 118.15,78.6 130.6,77.4 143.05,76.1 155.5,71 167.95,61 180.4,57.4 192.85,59.7 205.3,63.8 217.75,67.5 230.2,69.5 242.65,71.2 255.1,73.2 267.55,74.6 280,77.3 292.45,77 304.9,78" fill="none" stroke="#ffb0b0" stroke-width="2.0" stroke-linejoin="round"/>
<circle cx="55.9" cy="95.3" r="2.8" fill="#ffb0b0"/>
<circle cx="68.35" cy="87.8" r="2.8" fill="#ffb0b0"/>
<circle cx="80.8" cy="83.5" r="2.8" fill="#ffb0b0"/>
<circle cx="93.25" cy="81.2" r="2.8" fill="#ffb0b0"/>
<circle cx="105.7" cy="80.7" r="2.8" fill="#ffb0b0"/>
<circle cx="118.15" cy="78.6" r="2.8" fill="#ffb0b0"/>
<circle cx="130.6" cy="77.4" r="2.8" fill="#ffb0b0"/>
<circle cx="143.05" cy="76.1" r="2.8" fill="#ffb0b0"/>
<circle cx="155.5" cy="71" r="2.8" fill="#ffb0b0"/>
<circle cx="167.95" cy="61" r="2.8" fill="#ffb0b0"/>
<circle cx="180.4" cy="57.4" r="2.8" fill="#ffb0b0"/>
<circle cx="192.85" cy="59.7" r="2.8" fill="#ffb0b0"/>
<circle cx="205.3" cy="63.8" r="2.8" fill="#ffb0b0"/>
<circle cx="217.75" cy="67.5" r="2.8" fill="#ffb0b0"/>
<circle cx="230.2" cy="69.5" r="2.8" fill="#ffb0b0"/>
<circle cx="242.65" cy="71.2" r="2.8" fill="#ffb0b0"/>
<circle cx="255.1" cy="73.2" r="2.8" fill="#ffb0b0"/>
<circle cx="267.55" cy="74.6" r="2.8" fill="#ffb0b0"/>
<circle cx="280" cy="77.3" r="2.8" fill="#ffb0b0"/>
<circle cx="292.45" cy="77" r="2.8" fill="#ffb0b0"/>
<circle cx="304.9" cy="78" r="2.8" fill="#ffb0b0"/>
<polyline points="55.9,104.9 68.35,99.3 80.8,101.5 93.25,97.2 105.7,91.5 118.15,89.4 130.6,82.5 143.05,77.4 155.5,68.5 167.95,57.9 180.4,50.2 192.85,55 205.3,58.2 217.75,60.3 230.2,67.9 242.65,70.9 255.1,73 267.55,74 280,77.5 292.45,77 304.9,78" fill="none" stroke="#ff7070" stroke-width="2.0" stroke-linejoin="round"/>
<circle cx="55.9" cy="104.9" r="2.8" fill="#ff7070"/>
<circle cx="68.35" cy="99.3" r="2.8" fill="#ff7070"/>
<circle cx="80.8" cy="101.5" r="2.8" fill="#ff7070"/>
<circle cx="93.25" cy="97.2" r="2.8" fill="#ff7070"/>
<circle cx="105.7" cy="91.5" r="2.8" fill="#ff7070"/>
<circle cx="118.15" cy="89.4" r="2.8" fill="#ff7070"/>
<circle cx="130.6" cy="82.5" r="2.8" fill="#ff7070"/>
<circle cx="143.05" cy="77.4" r="2.8" fill="#ff7070"/>
<circle cx="155.5" cy="68.5" r="2.8" fill="#ff7070"/>
<circle cx="167.95" cy="57.9" r="2.8" fill="#ff7070"/>
<circle cx="180.4" cy="50.2" r="2.8" fill="#ff7070"/>
<circle cx="192.85" cy="55" r="2.8" fill="#ff7070"/>
<circle cx="205.3" cy="58.2" r="2.8" fill="#ff7070"/>
<circle cx="217.75" cy="60.3" r="2.8" fill="#ff7070"/>
<circle cx="230.2" cy="67.9" r="2.8" fill="#ff7070"/>
<circle cx="242.65" cy="70.9" r="2.8" fill="#ff7070"/>
<circle cx="255.1" cy="73" r="2.8" fill="#ff7070"/>
<circle cx="267.55" cy="74" r="2.8" fill="#ff7070"/>
<circle cx="280" cy="77.5" r="2.8" fill="#ff7070"/>
<circle cx="292.45" cy="77" r="2.8" fill="#ff7070"/>
<circle cx="304.9" cy="78" r="2.8" fill="#ff7070"/>
<polyline points="55.9,112.4 68.35,113.3 80.8,103.3 93.25,101.5 105.7,100.1 118.15,93.7 130.6,87 143.05,81.4 155.5,75.6 167.95,60 180.4,54.8 192.85,55.6 205.3,61.7 217.75,63.8 230.2,68.5 242.65,70.9 255.1,73.4 267.55,74.6 280,77.5 292.45,78.3 304.9,78.5" fill="none" stroke="#ff0000" stroke-width="2.0" stroke-linejoin="round"/>
<circle cx="55.9" cy="112.4" r="2.8" fill="#ff0000"/>
<circle cx="68.35" cy="113.3" r="2.8" fill="#ff0000"/>
<circle cx="80.8" cy="103.3" r="2.8" fill="#ff0000"/>
<circle cx="93.25" cy="101.5" r="2.8" fill="#ff0000"/>
<circle cx="105.7" cy="100.1" r="2.8" fill="#ff0000"/>
<circle cx="118.15" cy="93.7" r="2.8" fill="#ff0000"/>
<circle cx="130.6" cy="87" r="2.8" fill="#ff0000"/>
<circle cx="143.05" cy="81.4" r="2.8" fill="#ff0000"/>
<circle cx="155.5" cy="75.6" r="2.8" fill="#ff0000"/>
<circle cx="167.95" cy="60" r="2.8" fill="#ff0000"/>
<circle cx="180.4" cy="54.8" r="2.8" fill="#ff0000"/>
<circle cx="192.85" cy="55.6" r="2.8" fill="#ff0000"/>
<circle cx="205.3" cy="61.7" r="2.8" fill="#ff0000"/>
<circle cx="217.75" cy="63.8" r="2.8" fill="#ff0000"/>
<circle cx="230.2" cy="68.5" r="2.8" fill="#ff0000"/>
<circle cx="242.65" cy="70.9" r="2.8" fill="#ff0000"/>
<circle cx="255.1" cy="73.4" r="2.8" fill="#ff0000"/>
<circle cx="267.55" cy="74.6" r="2.8" fill="#ff0000"/>
<circle cx="280" cy="77.5" r="2.8" fill="#ff0000"/>
<circle cx="292.45" cy="78.3" r="2.8" fill="#ff0000"/>
<circle cx="304.9" cy="78.5" r="2.8" fill="#ff0000"/>
</g>
<rect x="43.5" y="10.5" width="286" height="132.8" fill="none" stroke="#333" stroke-width="0.9"/>
<line x1="55.9" y1="143.3" x2="55.9" y2="140" stroke="#333" stroke-width="0.8"/>
<line x1="118.15" y1="143.3" x2="118.15" y2="140" stroke="#333" stroke-width="0.8"/>
<line x1="180.4" y1="143.3" x2="180.4" y2="140" stroke="#333" stroke-width="0.8"/>
<line x1="242.65" y1="143.3" x2="242.65" y2="140" stroke="#333" stroke-width="0.8"/>
<line x1="304.9" y1="143.3" x2="304.9" y2="140" stroke="#333" stroke-width="0.8"/>
<line x1="87.03" y1="143.3" x2="87.03" y2="141.5" stroke="#333" stroke-width="0.8"/>
<line x1="149.28" y1="143.3" x2="149.28" y2="141.5" stroke="#333" stroke-width="0.8"/>
<line x1="211.53" y1="143.3" x2="211.53" y2="141.5" stroke="#333" stroke-width="0.8"/>
<line x1="273.77" y1="143.3" x2="273.77" y2="141.5" stroke="#333" stroke-width="0.8"/>
<line x1="43.5" y1="32.6" x2="46.8" y2="32.6" stroke="#333" stroke-width="0.8"/>
<line x1="43.5" y1="77" x2="46.8" y2="77" stroke="#333" stroke-width="0.8"/>
<line x1="43.5" y1="121.4" x2="46.8" y2="121.4" stroke="#333" stroke-width="0.8"/>
<line x1="43.5" y1="54.8" x2="45.3" y2="54.8" stroke="#333" stroke-width="0.8"/>
<line x1="43.5" y1="99.2" x2="45.3" y2="99.2" stroke="#333" stroke-width="0.8"/>
<text x="55.9" y="153.4" font-size="9.5" text-anchor="middle">0</text>
<text x="118.15" y="153.4" font-size="9.5" text-anchor="middle">5</text>
<text x="180.4" y="153.4" font-size="9.5" text-anchor="middle">10</text>
<text x="242.65" y="153.4" font-size="9.5" text-anchor="middle">15</text>
<text x="304.9" y="153.4" font-size="9.5" text-anchor="middle">20</text>
<text x="39.4" y="35.2" font-size="9.4" text-anchor="end">0.02</text>
<text x="39.4" y="79.6" font-size="9.4" text-anchor="end">0.00</text>
<text x="39.4" y="124" font-size="9.4" text-anchor="end">-0.02</text>
<text x="147.4" y="173.5" font-size="12.6">Layer number</text>
<text transform="translate(9.6,80.8) rotate(-90)" font-size="11.8" text-anchor="middle">Displacement (nm)</text>
<text x="1.3" y="13.5" font-size="15" font-weight="bold">a</text>
<text x="135" y="24.2" font-size="10.6">LaAlO<tspan font-size="7.5" dy="2.6">3</tspan></text>
<text x="200.7" y="24.2" font-size="10.6">SrTiO<tspan font-size="7.5" dy="2.6">3</tspan></text>
<clipPath id="c52"><rect x="52.5" y="1.3" width="46.4" height="44.8"/></clipPath>
<g clip-path="url(#c52)">
<rect x="52.5" y="1.3" width="46.4" height="44.8" fill="#6a6a6a"/>
<rect x="52.5" y="1.3" width="46.4" height="44.8" filter="url(#noise)" opacity="0.55"/>
<circle cx="66.79" cy="15.41" r="5" fill="url(#atom)" opacity="0.4"/>
<circle cx="66.79" cy="33.29" r="5" fill="url(#atom)" opacity="0.4"/>
<circle cx="83.59" cy="15.41" r="5" fill="url(#atom)" opacity="0.4"/>
<circle cx="83.59" cy="33.29" r="5" fill="url(#atom)" opacity="0.4"/>
<circle cx="59.32" cy="6.68" r="6.5" fill="url(#atom)"/>
<circle cx="59.32" cy="24.1" r="6.5" fill="url(#atom)"/>
<circle cx="59.32" cy="41.62" r="6.5" fill="url(#atom)"/>
<circle cx="76.21" cy="6.68" r="6.5" fill="url(#atom)"/>
<circle cx="76.21" cy="24.1" r="6.5" fill="url(#atom)"/>
<circle cx="76.21" cy="41.62" r="6.5" fill="url(#atom)"/>
<circle cx="93.01" cy="6.68" r="6.5" fill="url(#atom)"/>
<circle cx="93.01" cy="24.1" r="6.5" fill="url(#atom)"/>
<circle cx="93.01" cy="41.62" r="6.5" fill="url(#atom)"/>
<rect x="58.42" y="5.93" width="1.8" height="1.5" fill="#ff1818"/>
<rect x="58.42" y="23.35" width="1.8" height="1.5" fill="#ff1818"/>
<rect x="58.42" y="40.87" width="1.8" height="1.5" fill="#ff1818"/>
<rect x="75.31" y="5.93" width="1.8" height="1.5" fill="#ff1818"/>
<rect x="75.31" y="23.35" width="1.8" height="1.5" fill="#ff1818"/>
<rect x="75.31" y="40.87" width="1.8" height="1.5" fill="#ff1818"/>
<rect x="92.11" y="5.93" width="1.8" height="1.5" fill="#ff1818"/>
<rect x="92.11" y="23.35" width="1.8" height="1.5" fill="#ff1818"/>
<rect x="92.11" y="40.87" width="1.8" height="1.5" fill="#ff1818"/>
<rect x="65.79" y="14.51" width="2" height="1.8" fill="#20ee20"/>
<rect x="65.79" y="32.39" width="2" height="1.8" fill="#20ee20"/>
<rect x="82.59" y="14.51" width="2" height="1.8" fill="#20ee20"/>
<rect x="82.59" y="32.39" width="2" height="1.8" fill="#20ee20"/>
</g>
<line x1="64.51" y1="38.98" x2="72.45" y2="38.98" stroke="#2c2cee" stroke-width="1.9"/>
<path d="M62.01 38.98L65.61 36.58L65.61 41.38Z" fill="#2c2cee"/>
<rect x="52.5" y="1.3" width="46.4" height="44.8" fill="none" stroke="#2c2cee" stroke-width="1.3"/>
<clipPath id="c116"><rect x="116.9" y="98.3" width="44.8" height="45"/></clipPath>
<g clip-path="url(#c116)">
<rect x="116.9" y="98.3" width="44.8" height="45" fill="#6a6a6a"/>
<rect x="116.9" y="98.3" width="44.8" height="45" filter="url(#noise)" opacity="0.55"/>
<circle cx="132.89" cy="112.2" r="5" fill="url(#atom)" opacity="0.4"/>
<circle cx="132.89" cy="128.59" r="5" fill="url(#atom)" opacity="0.4"/>
<circle cx="148.89" cy="112.2" r="5" fill="url(#atom)" opacity="0.4"/>
<circle cx="148.89" cy="128.59" r="5" fill="url(#atom)" opacity="0.4"/>
<circle cx="123.98" cy="104.69" r="6.5" fill="url(#atom)"/>
<circle cx="123.98" cy="120.89" r="6.5" fill="url(#atom)"/>
<circle cx="123.98" cy="137.09" r="6.5" fill="url(#atom)"/>
<circle cx="139.93" cy="104.69" r="6.5" fill="url(#atom)"/>
<circle cx="139.93" cy="120.89" r="6.5" fill="url(#atom)"/>
<circle cx="139.93" cy="137.09" r="6.5" fill="url(#atom)"/>
<circle cx="155.88" cy="104.69" r="6.5" fill="url(#atom)"/>
<circle cx="155.88" cy="120.89" r="6.5" fill="url(#atom)"/>
<circle cx="155.88" cy="137.09" r="6.5" fill="url(#atom)"/>
<rect x="123.08" y="103.94" width="1.8" height="1.5" fill="#ff1818"/>
<rect x="123.08" y="120.14" width="1.8" height="1.5" fill="#ff1818"/>
<rect x="123.08" y="136.34" width="1.8" height="1.5" fill="#ff1818"/>
<rect x="139.03" y="103.94" width="1.8" height="1.5" fill="#ff1818"/>
<rect x="139.03" y="120.14" width="1.8" height="1.5" fill="#ff1818"/>
<rect x="139.03" y="136.34" width="1.8" height="1.5" fill="#ff1818"/>
<rect x="154.98" y="103.94" width="1.8" height="1.5" fill="#ff1818"/>
<rect x="154.98" y="120.14" width="1.8" height="1.5" fill="#ff1818"/>
<rect x="154.98" y="136.34" width="1.8" height="1.5" fill="#ff1818"/>
<rect x="131.89" y="111.3" width="2" height="1.8" fill="#20ee20"/>
<rect x="131.89" y="127.69" width="2" height="1.8" fill="#20ee20"/>
<rect x="147.89" y="111.3" width="2" height="1.8" fill="#20ee20"/>
<rect x="147.89" y="127.69" width="2" height="1.8" fill="#20ee20"/>
</g>
<line x1="127.65" y1="133.31" x2="136.13" y2="133.31" stroke="#ee2c2c" stroke-width="1.9"/>
<path d="M138.63 133.31L135.03 130.91L135.03 135.71Z" fill="#ee2c2c"/>
<rect x="116.9" y="98.3" width="44.8" height="45" fill="none" stroke="#ee2c2c" stroke-width="1.3"/>
<rect x="287.4" y="14.6" width="38.7" height="80.2" fill="#fff" stroke="#333" stroke-width="0.8"/>
<g opacity="0.55">
<path d="M292.45 65.2V87.2M290.25 65.2H294.65M290.25 87.2H294.65" stroke="#c8c8ff" stroke-width="0.7" fill="none"/>
<path d="M304.9 65.5V85.5M302.7 65.5H307.1M302.7 85.5H307.1" stroke="#c8c8ff" stroke-width="0.7" fill="none"/>
<polyline points="283.74,77 292.45,76.2 304.9,75.5" fill="none" stroke="#b8b8ff" stroke-width="2"/>
<circle cx="292.45" cy="76.2" r="2.8" fill="#b8b8ff"/>
<circle cx="304.9" cy="75.5" r="2.8" fill="#b8b8ff"/>
<path d="M292.45 66.8V86.8M290.25 66.8H294.65M290.25 86.8H294.65" stroke="#ffc0c0" stroke-width="0.7" fill="none"/>
<path d="M304.9 65V83M302.7 65H307.1M302.7 83H307.1" stroke="#ffc0c0" stroke-width="0.7" fill="none"/>
<polyline points="283.74,77 292.45,76.8 304.9,74 317.35,81" fill="none" stroke="#ffb0b0" stroke-width="2"/>
<circle cx="292.45" cy="76.8" r="2.8" fill="#ffb0b0"/>
<circle cx="304.9" cy="74" r="2.8" fill="#ffb0b0"/>
<polyline points="283.74,77.5 292.45,77.5 304.9,77 317.35,84" fill="none" stroke="#ff7070" stroke-width="2"/>
<circle cx="292.45" cy="77.5" r="2.8" fill="#ff7070"/>
<circle cx="304.9" cy="77" r="2.8" fill="#ff7070"/>
</g>
<line x1="291.2" y1="21.8" x2="313.5" y2="21.8" stroke="#0000ff" stroke-width="2.0"/>
<circle cx="302.35" cy="21.8" r="2.3" fill="#0000ff"/>
<text x="323.5" y="25.2" font-size="9.6" text-anchor="end">-3</text>
<line x1="291.2" y1="33.2" x2="313.5" y2="33.2" stroke="#7878ff" stroke-width="2.6"/>
<circle cx="302.35" cy="33.2" r="2.7" fill="#7878ff"/>
<text x="323.5" y="36.6" font-size="9.6" text-anchor="end">-2</text>
<line x1="291.2" y1="44.6" x2="313.5" y2="44.6" stroke="#b8b8ff" stroke-width="2.6"/>
<circle cx="302.35" cy="44.6" r="2.7" fill="#b8b8ff"/>
<text x="323.5" y="48" font-size="9.6" text-anchor="end">-1</text>
<line x1="291.2" y1="56" x2="313.5" y2="56" stroke="#000000" stroke-width="2.0"/>
<circle cx="302.35" cy="56" r="2.3" fill="#000000"/>
<text x="323.5" y="59.4" font-size="9.6" text-anchor="end">0</text>
<line x1="291.2" y1="67.3" x2="313.5" y2="67.3" stroke="#ffb0b0" stroke-width="3.0"/>
<circle cx="302.35" cy="67.3" r="2.7" fill="#ffb0b0"/>
<text x="323.5" y="70.7" font-size="9.6" text-anchor="end">1</text>
<line x1="291.2" y1="78.3" x2="313.5" y2="78.3" stroke="#ff7070" stroke-width="3.0"/>
<circle cx="302.35" cy="78.3" r="2.7" fill="#ff7070"/>
<text x="323.5" y="81.7" font-size="9.6" text-anchor="end">2</text>
<line x1="291.2" y1="89.2" x2="313.5" y2="89.2" stroke="#ff0000" stroke-width="2.0"/>
<circle cx="302.35" cy="89.2" r="2.3" fill="#ff0000"/>
<text x="323.5" y="92.6" font-size="9.6" text-anchor="end">3</text>
<line x1="408.3" y1="7.8" x2="408.3" y2="142.2" stroke="#dcdcdc" stroke-width="0.7"/>
<line x1="470.95" y1="7.8" x2="470.95" y2="142.2" stroke="#dcdcdc" stroke-width="0.7"/>
<line x1="596.25" y1="7.8" x2="596.25" y2="142.2" stroke="#dcdcdc" stroke-width="0.7"/>
<line x1="658.9" y1="7.8" x2="658.9" y2="142.2" stroke="#dcdcdc" stroke-width="0.7"/>
<line x1="396.1" y1="14.1" x2="683.4" y2="14.1" stroke="#dcdcdc" stroke-width="0.7"/>
<line x1="396.1" y1="44.6" x2="683.4" y2="44.6" stroke="#dcdcdc" stroke-width="0.7"/>
<line x1="396.1" y1="75.1" x2="683.4" y2="75.1" stroke="#dcdcdc" stroke-width="0.7"/>
<line x1="396.1" y1="105.6" x2="683.4" y2="105.6" stroke="#dcdcdc" stroke-width="0.7"/>
<line x1="396.1" y1="136.1" x2="683.4" y2="136.1" stroke="#dcdcdc" stroke-width="0.7"/>
<line x1="533.6" y1="7.8" x2="533.6" y2="142.2" stroke="#5a5a5a" stroke-width="1.2" stroke-dasharray="3,1.1"/>
<g clip-path="url(#clipB)">
<path d="M408.3 55.7V83.7M406.1 55.7H410.5M406.1 83.7H410.5" stroke="#8080ff" stroke-width="0.7" fill="none" opacity="0.75"/>
<path d="M420.83 42.2V70.2M418.63 42.2H423.03M418.63 70.2H423.03" stroke="#8080ff" stroke-width="0.7" fill="none" opacity="0.75"/>
<path d="M433.36 43V73M431.16 43H435.56M431.16 73H435.56" stroke="#8080ff" stroke-width="0.7" fill="none" opacity="0.75"/>
<path d="M445.89 40.1V68.1M443.69 40.1H448.09M443.69 68.1H448.09" stroke="#8080ff" stroke-width="0.7" fill="none" opacity="0.75"/>
<path d="M458.42 39.4V69.4M456.22 39.4H460.62M456.22 69.4H460.62" stroke="#8080ff" stroke-width="0.7" fill="none" opacity="0.75"/>
<path d="M470.95 31.3V67.3M468.75 31.3H473.15M468.75 67.3H473.15" stroke="#8080ff" stroke-width="0.7" fill="none" opacity="0.75"/>
<path d="M483.48 39.1V67.1M481.28 39.1H485.68M481.28 67.1H485.68" stroke="#8080ff" stroke-width="0.7" fill="none" opacity="0.75"/>
<path d="M496.01 35.6V63.6M493.81 35.6H498.21M493.81 63.6H498.21" stroke="#8080ff" stroke-width="0.7" fill="none" opacity="0.75"/>
<path d="M508.54 36V60M506.34 36H510.74M506.34 60H510.74" stroke="#8080ff" stroke-width="0.7" fill="none" opacity="0.75"/>
<path d="M521.07 49.3V67.3M518.87 49.3H523.27M518.87 67.3H523.27" stroke="#8080ff" stroke-width="0.7" fill="none" opacity="0.75"/>
<path d="M533.6 59.2V77.2M531.4 59.2H535.8M531.4 77.2H535.8" stroke="#8080ff" stroke-width="0.7" fill="none" opacity="0.75"/>
<path d="M546.13 63.6V81.6M543.93 63.6H548.33M543.93 81.6H548.33" stroke="#8080ff" stroke-width="0.7" fill="none" opacity="0.75"/>
<path d="M558.66 65.2V81.2M556.46 65.2H560.86M556.46 81.2H560.86" stroke="#8080ff" stroke-width="0.7" fill="none" opacity="0.75"/>
<path d="M571.19 63.1V77.1M568.99 63.1H573.39M568.99 77.1H573.39" stroke="#8080ff" stroke-width="0.7" fill="none" opacity="0.75"/>
<path d="M583.72 65.2V79.2M581.52 65.2H585.92M581.52 79.2H585.92" stroke="#8080ff" stroke-width="0.7" fill="none" opacity="0.75"/>
<path d="M596.25 66.2V80.2M594.05 66.2H598.45M594.05 80.2H598.45" stroke="#8080ff" stroke-width="0.7" fill="none" opacity="0.75"/>
<path d="M608.78 67V81M606.58 67H610.98M606.58 81H610.98" stroke="#8080ff" stroke-width="0.7" fill="none" opacity="0.75"/>
<path d="M621.31 67.8V81.8M619.11 67.8H623.51M619.11 81.8H623.51" stroke="#8080ff" stroke-width="0.7" fill="none" opacity="0.75"/>
<path d="M633.84 68.9V82.9M631.64 68.9H636.04M631.64 82.9H636.04" stroke="#8080ff" stroke-width="0.7" fill="none" opacity="0.75"/>
<path d="M646.37 69.2V83.2M644.17 69.2H648.57M644.17 83.2H648.57" stroke="#8080ff" stroke-width="0.7" fill="none" opacity="0.75"/>
<path d="M658.9 69.4V83.4M656.7 69.4H661.1M656.7 83.4H661.1" stroke="#8080ff" stroke-width="0.7" fill="none" opacity="0.75"/>
<path d="M408.3 67.6V85.6M406.1 67.6H410.5M406.1 85.6H410.5" stroke="#a0a0ff" stroke-width="0.7" fill="none" opacity="0.75"/>
<path d="M420.83 63V81M418.63 63H423.03M418.63 81H423.03" stroke="#a0a0ff" stroke-width="0.7" fill="none" opacity="0.75"/>
<path d="M433.36 60V78M431.16 60H435.56M431.16 78H435.56" stroke="#a0a0ff" stroke-width="0.7" fill="none" opacity="0.75"/>
<path d="M445.89 58.7V76.7M443.69 58.7H448.09M443.69 76.7H448.09" stroke="#a0a0ff" stroke-width="0.7" fill="none" opacity="0.75"/>
<path d="M458.42 60V78M456.22 60H460.62M456.22 78H460.62" stroke="#a0a0ff" stroke-width="0.7" fill="none" opacity="0.75"/>
<path d="M470.95 56.1V74.1M468.75 56.1H473.15M468.75 74.1H473.15" stroke="#a0a0ff" stroke-width="0.7" fill="none" opacity="0.75"/>
<path d="M483.48 53.6V71.6M481.28 53.6H485.68M481.28 71.6H485.68" stroke="#a0a0ff" stroke-width="0.7" fill="none" opacity="0.75"/>
<path d="M496.01 52.8V68.8M493.81 52.8H498.21M493.81 68.8H498.21" stroke="#a0a0ff" stroke-width="0.7" fill="none" opacity="0.75"/>
<path d="M508.54 51.2V67.2M506.34 51.2H510.74M506.34 67.2H510.74" stroke="#a0a0ff" stroke-width="0.7" fill="none" opacity="0.75"/>
<path d="M521.07 50.3V66.3M518.87 50.3H523.27M518.87 66.3H523.27" stroke="#a0a0ff" stroke-width="0.7" fill="none" opacity="0.75"/>
<path d="M533.6 55.6V71.6M531.4 55.6H535.8M531.4 71.6H535.8" stroke="#a0a0ff" stroke-width="0.7" fill="none" opacity="0.75"/>
<path d="M546.13 57.6V73.6M543.93 57.6H548.33M543.93 73.6H548.33" stroke="#a0a0ff" stroke-width="0.7" fill="none" opacity="0.75"/>
<path d="M558.66 60.6V74.6M556.46 60.6H560.86M556.46 74.6H560.86" stroke="#a0a0ff" stroke-width="0.7" fill="none" opacity="0.75"/>
<path d="M571.19 62.4V76.4M568.99 62.4H573.39M568.99 76.4H573.39" stroke="#a0a0ff" stroke-width="0.7" fill="none" opacity="0.75"/>
<path d="M583.72 65.8V77.8M581.52 65.8H585.92M581.52 77.8H585.92" stroke="#a0a0ff" stroke-width="0.7" fill="none" opacity="0.75"/>
<path d="M596.25 67V79M594.05 67H598.45M594.05 79H598.45" stroke="#a0a0ff" stroke-width="0.7" fill="none" opacity="0.75"/>
<path d="M608.78 67.9V79.9M606.58 67.9H610.98M606.58 79.9H610.98" stroke="#a0a0ff" stroke-width="0.7" fill="none" opacity="0.75"/>
<path d="M621.31 68.7V80.7M619.11 68.7H623.51M619.11 80.7H623.51" stroke="#a0a0ff" stroke-width="0.7" fill="none" opacity="0.75"/>
<path d="M633.84 69.7V81.7M631.64 69.7H636.04M631.64 81.7H636.04" stroke="#a0a0ff" stroke-width="0.7" fill="none" opacity="0.75"/>
<path d="M646.37 70V82M644.17 70H648.57M644.17 82H648.57" stroke="#a0a0ff" stroke-width="0.7" fill="none" opacity="0.75"/>
<path d="M658.9 70.4V82.4M656.7 70.4H661.1M656.7 82.4H661.1" stroke="#a0a0ff" stroke-width="0.7" fill="none" opacity="0.75"/>
<path d="M408.3 70.6V86.6M406.1 70.6H410.5M406.1 86.6H410.5" stroke="#c8c8ff" stroke-width="0.7" fill="none" opacity="0.75"/>
<path d="M420.83 68.6V84.6M418.63 68.6H423.03M418.63 84.6H423.03" stroke="#c8c8ff" stroke-width="0.7" fill="none" opacity="0.75"/>
<path d="M433.36 65.6V81.6M431.16 65.6H435.56M431.16 81.6H435.56" stroke="#c8c8ff" stroke-width="0.7" fill="none" opacity="0.75"/>
<path d="M445.89 63.1V79.1M443.69 63.1H448.09M443.69 79.1H448.09" stroke="#c8c8ff" stroke-width="0.7" fill="none" opacity="0.75"/>
<path d="M458.42 62.6V78.6M456.22 62.6H460.62M456.22 78.6H460.62" stroke="#c8c8ff" stroke-width="0.7" fill="none" opacity="0.75"/>
<path d="M470.95 59.6V75.6M468.75 59.6H473.15M468.75 75.6H473.15" stroke="#c8c8ff" stroke-width="0.7" fill="none" opacity="0.75"/>
<path d="M483.48 56.6V72.6M481.28 56.6H485.68M481.28 72.6H485.68" stroke="#c8c8ff" stroke-width="0.7" fill="none" opacity="0.75"/>
<path d="M496.01 53.1V69.1M493.81 53.1H498.21M493.81 69.1H498.21" stroke="#c8c8ff" stroke-width="0.7" fill="none" opacity="0.75"/>
<path d="M508.54 48.6V64.6M506.34 48.6H510.74M506.34 64.6H510.74" stroke="#c8c8ff" stroke-width="0.7" fill="none" opacity="0.75"/>
<path d="M521.07 49.4V65.4M518.87 49.4H523.27M518.87 65.4H523.27" stroke="#c8c8ff" stroke-width="0.7" fill="none" opacity="0.75"/>
<path d="M533.6 55.6V69.6M531.4 55.6H535.8M531.4 69.6H535.8" stroke="#c8c8ff" stroke-width="0.7" fill="none" opacity="0.75"/>
<path d="M546.13 58.1V72.1M543.93 58.1H548.33M543.93 72.1H548.33" stroke="#c8c8ff" stroke-width="0.7" fill="none" opacity="0.75"/>
<path d="M558.66 60.6V74.6M556.46 60.6H560.86M556.46 74.6H560.86" stroke="#c8c8ff" stroke-width="0.7" fill="none" opacity="0.75"/>
<path d="M571.19 63.4V75.4M568.99 63.4H573.39M568.99 75.4H573.39" stroke="#c8c8ff" stroke-width="0.7" fill="none" opacity="0.75"/>
<path d="M583.72 65.8V77.8M581.52 65.8H585.92M581.52 77.8H585.92" stroke="#c8c8ff" stroke-width="0.7" fill="none" opacity="0.75"/>
<path d="M596.25 67V79M594.05 67H598.45M594.05 79H598.45" stroke="#c8c8ff" stroke-width="0.7" fill="none" opacity="0.75"/>
<path d="M608.78 67.9V79.9M606.58 67.9H610.98M606.58 79.9H610.98" stroke="#c8c8ff" stroke-width="0.7" fill="none" opacity="0.75"/>
<path d="M621.31 68.7V80.7M619.11 68.7H623.51M619.11 80.7H623.51" stroke="#c8c8ff" stroke-width="0.7" fill="none" opacity="0.75"/>
<path d="M633.84 69.7V81.7M631.64 69.7H636.04M631.64 81.7H636.04" stroke="#c8c8ff" stroke-width="0.7" fill="none" opacity="0.75"/>
<path d="M646.37 70V82M644.17 70H648.57M644.17 82H648.57" stroke="#c8c8ff" stroke-width="0.7" fill="none" opacity="0.75"/>
<path d="M658.9 70.4V82.4M656.7 70.4H661.1M656.7 82.4H661.1" stroke="#c8c8ff" stroke-width="0.7" fill="none" opacity="0.75"/>
<path d="M408.3 76.8V90.8M406.1 76.8H410.5M406.1 90.8H410.5" stroke="#707070" stroke-width="0.7" fill="none" opacity="0.75"/>
<path d="M420.83 72.7V86.7M418.63 72.7H423.03M418.63 86.7H423.03" stroke="#707070" stroke-width="0.7" fill="none" opacity="0.75"/>
<path d="M433.36 72.7V86.7M431.16 72.7H435.56M431.16 86.7H435.56" stroke="#707070" stroke-width="0.7" fill="none" opacity="0.75"/>
<path d="M445.89 70.9V84.9M443.69 70.9H448.09M443.69 84.9H448.09" stroke="#707070" stroke-width="0.7" fill="none" opacity="0.75"/>
<path d="M458.42 66.6V80.6M456.22 66.6H460.62M456.22 80.6H460.62" stroke="#707070" stroke-width="0.7" fill="none" opacity="0.75"/>
<path d="M470.95 65V79M468.75 65H473.15M468.75 79H473.15" stroke="#707070" stroke-width="0.7" fill="none" opacity="0.75"/>
<path d="M483.48 63.2V77.2M481.28 63.2H485.68M481.28 77.2H485.68" stroke="#707070" stroke-width="0.7" fill="none" opacity="0.75"/>
<path d="M496.01 62.3V74.3M493.81 62.3H498.21M493.81 74.3H498.21" stroke="#707070" stroke-width="0.7" fill="none" opacity="0.75"/>
<path d="M508.54 62.2V74.2M506.34 62.2H510.74M506.34 74.2H510.74" stroke="#707070" stroke-width="0.7" fill="none" opacity="0.75"/>
<path d="M521.07 61.3V73.3M518.87 61.3H523.27M518.87 73.3H523.27" stroke="#707070" stroke-width="0.7" fill="none" opacity="0.75"/>
<path d="M533.6 65.7V77.7M531.4 65.7H535.8M531.4 77.7H535.8" stroke="#707070" stroke-width="0.7" fill="none" opacity="0.75"/>
<path d="M546.13 67V79M543.93 67H548.33M543.93 79H548.33" stroke="#707070" stroke-width="0.7" fill="none" opacity="0.75"/>
<path d="M558.66 67.4V79.4M556.46 67.4H560.86M556.46 79.4H560.86" stroke="#707070" stroke-width="0.7" fill="none" opacity="0.75"/>
<path d="M571.19 64.1V76.1M568.99 64.1H573.39M568.99 76.1H573.39" stroke="#707070" stroke-width="0.7" fill="none" opacity="0.75"/>
<path d="M583.72 67.2V77.2M581.52 67.2H585.92M581.52 77.2H585.92" stroke="#707070" stroke-width="0.7" fill="none" opacity="0.75"/>
<path d="M596.25 68.2V78.2M594.05 68.2H598.45M594.05 78.2H598.45" stroke="#707070" stroke-width="0.7" fill="none" opacity="0.75"/>
<path d="M608.78 69V79M606.58 69H610.98M606.58 79H610.98" stroke="#707070" stroke-width="0.7" fill="none" opacity="0.75"/>
<path d="M621.31 69.8V79.8M619.11 69.8H623.51M619.11 79.8H623.51" stroke="#707070" stroke-width="0.7" fill="none" opacity="0.75"/>
<path d="M633.84 70.9V80.9M631.64 70.9H636.04M631.64 80.9H636.04" stroke="#707070" stroke-width="0.7" fill="none" opacity="0.75"/>
<path d="M646.37 71V81M644.17 71H648.57M644.17 81H648.57" stroke="#707070" stroke-width="0.7" fill="none" opacity="0.75"/>
<path d="M658.9 71.4V81.4M656.7 71.4H661.1M656.7 81.4H661.1" stroke="#707070" stroke-width="0.7" fill="none" opacity="0.75"/>
<path d="M408.3 82.8V100.8M406.1 82.8H410.5M406.1 100.8H410.5" stroke="#ffc0c0" stroke-width="0.7" fill="none" opacity="0.75"/>
<path d="M420.83 77.6V95.6M418.63 77.6H423.03M418.63 95.6H423.03" stroke="#ffc0c0" stroke-width="0.7" fill="none" opacity="0.75"/>
<path d="M433.36 73.8V91.8M431.16 73.8H435.56M431.16 91.8H435.56" stroke="#ffc0c0" stroke-width="0.7" fill="none" opacity="0.75"/>
<path d="M445.89 70.8V88.8M443.69 70.8H448.09M443.69 88.8H448.09" stroke="#ffc0c0" stroke-width="0.7" fill="none" opacity="0.75"/>
<path d="M458.42 69.2V87.2M456.22 69.2H460.62M456.22 87.2H460.62" stroke="#ffc0c0" stroke-width="0.7" fill="none" opacity="0.75"/>
<path d="M470.95 67.6V85.6M468.75 67.6H473.15M468.75 85.6H473.15" stroke="#ffc0c0" stroke-width="0.7" fill="none" opacity="0.75"/>
<path d="M483.48 66.4V84.4M481.28 66.4H485.68M481.28 84.4H485.68" stroke="#ffc0c0" stroke-width="0.7" fill="none" opacity="0.75"/>
<path d="M496.01 65.1V83.1M493.81 65.1H498.21M493.81 83.1H498.21" stroke="#ffc0c0" stroke-width="0.7" fill="none" opacity="0.75"/>
<path d="M508.54 61.6V79.6M506.34 61.6H510.74M506.34 79.6H510.74" stroke="#ffc0c0" stroke-width="0.7" fill="none" opacity="0.75"/>
<path d="M521.07 51.6V69.6M518.87 51.6H523.27M518.87 69.6H523.27" stroke="#ffc0c0" stroke-width="0.7" fill="none" opacity="0.75"/>
<path d="M533.6 56.1V70.1M531.4 56.1H535.8M531.4 70.1H535.8" stroke="#ffc0c0" stroke-width="0.7" fill="none" opacity="0.75"/>
<path d="M546.13 58.1V72.1M543.93 58.1H548.33M543.93 72.1H548.33" stroke="#ffc0c0" stroke-width="0.7" fill="none" opacity="0.75"/>
<path d="M558.66 60.1V74.1M556.46 60.1H560.86M556.46 74.1H560.86" stroke="#ffc0c0" stroke-width="0.7" fill="none" opacity="0.75"/>
<path d="M571.19 62.9V74.9M568.99 62.9H573.39M568.99 74.9H573.39" stroke="#ffc0c0" stroke-width="0.7" fill="none" opacity="0.75"/>
<path d="M583.72 65.6V77.6M581.52 65.6H585.92M581.52 77.6H585.92" stroke="#ffc0c0" stroke-width="0.7" fill="none" opacity="0.75"/>
<path d="M596.25 66.8V78.8M594.05 66.8H598.45M594.05 78.8H598.45" stroke="#ffc0c0" stroke-width="0.7" fill="none" opacity="0.75"/>
<path d="M608.78 67.9V79.9M606.58 67.9H610.98M606.58 79.9H610.98" stroke="#ffc0c0" stroke-width="0.7" fill="none" opacity="0.75"/>
<path d="M621.31 68.6V80.6M619.11 68.6H623.51M619.11 80.6H623.51" stroke="#ffc0c0" stroke-width="0.7" fill="none" opacity="0.75"/>
<path d="M633.84 69.6V81.6M631.64 69.6H636.04M631.64 81.6H636.04" stroke="#ffc0c0" stroke-width="0.7" fill="none" opacity="0.75"/>
<path d="M646.37 70.2V82.2M644.17 70.2H648.57M644.17 82.2H648.57" stroke="#ffc0c0" stroke-width="0.7" fill="none" opacity="0.75"/>
<path d="M658.9 70.4V82.4M656.7 70.4H661.1M656.7 82.4H661.1" stroke="#ffc0c0" stroke-width="0.7" fill="none" opacity="0.75"/>
<path d="M408.3 89.2V111.2M406.1 89.2H410.5M406.1 111.2H410.5" stroke="#ff9898" stroke-width="0.7" fill="none" opacity="0.75"/>
<path d="M420.83 84.8V106.8M418.63 84.8H423.03M418.63 106.8H423.03" stroke="#ff9898" stroke-width="0.7" fill="none" opacity="0.75"/>
<path d="M433.36 86.6V108.6M431.16 86.6H435.56M431.16 108.6H435.56" stroke="#ff9898" stroke-width="0.7" fill="none" opacity="0.75"/>
<path d="M445.89 82.3V104.3M443.69 82.3H448.09M443.69 104.3H448.09" stroke="#ff9898" stroke-width="0.7" fill="none" opacity="0.75"/>
<path d="M458.42 78.4V100.4M456.22 78.4H460.62M456.22 100.4H460.62" stroke="#ff9898" stroke-width="0.7" fill="none" opacity="0.75"/>
<path d="M470.95 74.6V96.6M468.75 74.6H473.15M468.75 96.6H473.15" stroke="#ff9898" stroke-width="0.7" fill="none" opacity="0.75"/>
<path d="M483.48 68.7V90.7M481.28 68.7H485.68M481.28 90.7H485.68" stroke="#ff9898" stroke-width="0.7" fill="none" opacity="0.75"/>
<path d="M496.01 65.2V87.2M493.81 65.2H498.21M493.81 87.2H498.21" stroke="#ff9898" stroke-width="0.7" fill="none" opacity="0.75"/>
<path d="M508.54 57.2V79.2M506.34 57.2H510.74M506.34 79.2H510.74" stroke="#ff9898" stroke-width="0.7" fill="none" opacity="0.75"/>
<path d="M521.07 48.3V68.3M518.87 48.3H523.27M518.87 68.3H523.27" stroke="#ff9898" stroke-width="0.7" fill="none" opacity="0.75"/>
<path d="M533.6 55.8V69.8M531.4 55.8H535.8M531.4 69.8H535.8" stroke="#ff9898" stroke-width="0.7" fill="none" opacity="0.75"/>
<path d="M546.13 57.6V71.6M543.93 57.6H548.33M543.93 71.6H548.33" stroke="#ff9898" stroke-width="0.7" fill="none" opacity="0.75"/>
<path d="M558.66 59.8V73.8M556.46 59.8H560.86M556.46 73.8H560.86" stroke="#ff9898" stroke-width="0.7" fill="none" opacity="0.75"/>
<path d="M571.19 62.4V74.4M568.99 62.4H573.39M568.99 74.4H573.39" stroke="#ff9898" stroke-width="0.7" fill="none" opacity="0.75"/>
<path d="M583.72 65.4V77.4M581.52 65.4H585.92M581.52 77.4H585.92" stroke="#ff9898" stroke-width="0.7" fill="none" opacity="0.75"/>
<path d="M596.25 66.8V78.8M594.05 66.8H598.45M594.05 78.8H598.45" stroke="#ff9898" stroke-width="0.7" fill="none" opacity="0.75"/>
<path d="M608.78 67.9V79.9M606.58 67.9H610.98M606.58 79.9H610.98" stroke="#ff9898" stroke-width="0.7" fill="none" opacity="0.75"/>
<path d="M621.31 68.6V80.6M619.11 68.6H623.51M619.11 80.6H623.51" stroke="#ff9898" stroke-width="0.7" fill="none" opacity="0.75"/>
<path d="M633.84 69.6V81.6M631.64 69.6H636.04M631.64 81.6H636.04" stroke="#ff9898" stroke-width="0.7" fill="none" opacity="0.75"/>
<path d="M646.37 70.2V82.2M644.17 70.2H648.57M644.17 82.2H648.57" stroke="#ff9898" stroke-width="0.7" fill="none" opacity="0.75"/>
<path d="M658.9 70.4V82.4M656.7 70.4H661.1M656.7 82.4H661.1" stroke="#ff9898" stroke-width="0.7" fill="none" opacity="0.75"/>
<path d="M408.3 94.3V120.3M406.1 94.3H410.5M406.1 120.3H410.5" stroke="#ff8080" stroke-width="0.7" fill="none" opacity="0.75"/>
<path d="M420.83 96.6V120.6M418.63 96.6H423.03M418.63 120.6H423.03" stroke="#ff8080" stroke-width="0.7" fill="none" opacity="0.75"/>
<path d="M433.36 87.1V111.1M431.16 87.1H435.56M431.16 111.1H435.56" stroke="#ff8080" stroke-width="0.7" fill="none" opacity="0.75"/>
<path d="M445.89 85.6V109.6M443.69 85.6H448.09M443.69 109.6H448.09" stroke="#ff8080" stroke-width="0.7" fill="none" opacity="0.75"/>
<path d="M458.42 85.6V107.6M456.22 85.6H460.62M456.22 107.6H460.62" stroke="#ff8080" stroke-width="0.7" fill="none" opacity="0.75"/>
<path d="M470.95 80.2V102.2M468.75 80.2H473.15M468.75 102.2H473.15" stroke="#ff8080" stroke-width="0.7" fill="none" opacity="0.75"/>
<path d="M483.48 74.2V96.2M481.28 74.2H485.68M481.28 96.2H485.68" stroke="#ff8080" stroke-width="0.7" fill="none" opacity="0.75"/>
<path d="M496.01 69.3V89.3M493.81 69.3H498.21M493.81 89.3H498.21" stroke="#ff8080" stroke-width="0.7" fill="none" opacity="0.75"/>
<path d="M508.54 63.9V83.9M506.34 63.9H510.74M506.34 83.9H510.74" stroke="#ff8080" stroke-width="0.7" fill="none" opacity="0.75"/>
<path d="M521.07 50.1V70.1M518.87 50.1H523.27M518.87 70.1H523.27" stroke="#ff8080" stroke-width="0.7" fill="none" opacity="0.75"/>
<path d="M533.6 58.4V70.4M531.4 58.4H535.8M531.4 70.4H535.8" stroke="#ff8080" stroke-width="0.7" fill="none" opacity="0.75"/>
<path d="M546.13 59.6V71.6M543.93 59.6H548.33M543.93 71.6H548.33" stroke="#ff8080" stroke-width="0.7" fill="none" opacity="0.75"/>
<path d="M558.66 61.4V73.4M556.46 61.4H560.86M556.46 73.4H560.86" stroke="#ff8080" stroke-width="0.7" fill="none" opacity="0.75"/>
<path d="M571.19 62.9V74.9M568.99 62.9H573.39M568.99 74.9H573.39" stroke="#ff8080" stroke-width="0.7" fill="none" opacity="0.75"/>
<path d="M583.72 65.6V77.6M581.52 65.6H585.92M581.52 77.6H585.92" stroke="#ff8080" stroke-width="0.7" fill="none" opacity="0.75"/>
<path d="M596.25 67.8V77.8M594.05 67.8H598.45M594.05 77.8H598.45" stroke="#ff8080" stroke-width="0.7" fill="none" opacity="0.75"/>
<path d="M608.78 69.1V79.1M606.58 69.1H610.98M606.58 79.1H610.98" stroke="#ff8080" stroke-width="0.7" fill="none" opacity="0.75"/>
<path d="M621.31 69.7V79.7M619.11 69.7H623.51M619.11 79.7H623.51" stroke="#ff8080" stroke-width="0.7" fill="none" opacity="0.75"/>
<path d="M633.84 70.6V80.6M631.64 70.6H636.04M631.64 80.6H636.04" stroke="#ff8080" stroke-width="0.7" fill="none" opacity="0.75"/>
<path d="M646.37 71.2V81.2M644.17 71.2H648.57M644.17 81.2H648.57" stroke="#ff8080" stroke-width="0.7" fill="none" opacity="0.75"/>
<path d="M658.9 71.4V81.4M656.7 71.4H661.1M656.7 81.4H661.1" stroke="#ff8080" stroke-width="0.7" fill="none" opacity="0.75"/>
<polyline points="408.3,69.7 420.83,56.2 433.36,58 445.89,54.1 458.42,54.4 470.95,49.3 483.48,53.1 496.01,49.6 508.54,48 521.07,58.3 533.6,68.2 546.13,72.6 558.66,73.2 571.19,70.1 583.72,72.2 596.25,73.2 608.78,74 621.31,74.8 633.84,75.9 646.37,76.2 658.9,76.4" fill="none" stroke="#0000ff" stroke-width="2.0" stroke-linejoin="round"/>
<circle cx="408.3" cy="69.7" r="2.8" fill="#0000ff"/>
<circle cx="420.83" cy="56.2" r="2.8" fill="#0000ff"/>
<circle cx="433.36" cy="58" r="2.8" fill="#0000ff"/>
<circle cx="445.89" cy="54.1" r="2.8" fill="#0000ff"/>
<circle cx="458.42" cy="54.4" r="2.8" fill="#0000ff"/>
<circle cx="470.95" cy="49.3" r="2.8" fill="#0000ff"/>
<circle cx="483.48" cy="53.1" r="2.8" fill="#0000ff"/>
<circle cx="496.01" cy="49.6" r="2.8" fill="#0000ff"/>
<circle cx="508.54" cy="48" r="2.8" fill="#0000ff"/>
<circle cx="521.07" cy="58.3" r="2.8" fill="#0000ff"/>
<circle cx="533.6" cy="68.2" r="2.8" fill="#0000ff"/>
<circle cx="546.13" cy="72.6" r="2.8" fill="#0000ff"/>
<circle cx="558.66" cy="73.2" r="2.8" fill="#0000ff"/>
<circle cx="571.19" cy="70.1" r="2.8" fill="#0000ff"/>
<circle cx="583.72" cy="72.2" r="2.8" fill="#0000ff"/>
<circle cx="596.25" cy="73.2" r="2.8" fill="#0000ff"/>
<circle cx="608.78" cy="74" r="2.8" fill="#0000ff"/>
<circle cx="621.31" cy="74.8" r="2.8" fill="#0000ff"/>
<circle cx="633.84" cy="75.9" r="2.8" fill="#0000ff"/>
<circle cx="646.37" cy="76.2" r="2.8" fill="#0000ff"/>
<circle cx="658.9" cy="76.4" r="2.8" fill="#0000ff"/>
<polyline points="408.3,76.6 420.83,72 433.36,69 445.89,67.7 458.42,69 470.95,65.1 483.48,62.6 496.01,60.8 508.54,59.2 521.07,58.3 533.6,63.6 546.13,65.6 558.66,67.6 571.19,69.4 583.72,71.8 596.25,73 608.78,73.9 621.31,74.7 633.84,75.7 646.37,76 658.9,76.4" fill="none" stroke="#7878ff" stroke-width="2.0" stroke-linejoin="round"/>
<circle cx="408.3" cy="76.6" r="2.8" fill="#7878ff"/>
<circle cx="420.83" cy="72" r="2.8" fill="#7878ff"/>
<circle cx="433.36" cy="69" r="2.8" fill="#7878ff"/>
<circle cx="445.89" cy="67.7" r="2.8" fill="#7878ff"/>
<circle cx="458.42" cy="69" r="2.8" fill="#7878ff"/>
<circle cx="470.95" cy="65.1" r="2.8" fill="#7878ff"/>
<circle cx="483.48" cy="62.6" r="2.8" fill="#7878ff"/>
<circle cx="496.01" cy="60.8" r="2.8" fill="#7878ff"/>
<circle cx="508.54" cy="59.2" r="2.8" fill="#7878ff"/>
<circle cx="521.07" cy="58.3" r="2.8" fill="#7878ff"/>
<circle cx="533.6" cy="63.6" r="2.8" fill="#7878ff"/>
<circle cx="546.13" cy="65.6" r="2.8" fill="#7878ff"/>
<circle cx="558.66" cy="67.6" r="2.8" fill="#7878ff"/>
<circle cx="571.19" cy="69.4" r="2.8" fill="#7878ff"/>
<circle cx="583.72" cy="71.8" r="2.8" fill="#7878ff"/>
<circle cx="596.25" cy="73" r="2.8" fill="#7878ff"/>
<circle cx="608.78" cy="73.9" r="2.8" fill="#7878ff"/>
<circle cx="621.31" cy="74.7" r="2.8" fill="#7878ff"/>
<circle cx="633.84" cy="75.7" r="2.8" fill="#7878ff"/>
<circle cx="646.37" cy="76" r="2.8" fill="#7878ff"/>
<circle cx="658.9" cy="76.4" r="2.8" fill="#7878ff"/>
<polyline points="408.3,78.6 420.83,76.6 433.36,73.6 445.89,71.1 458.42,70.6 470.95,67.6 483.48,64.6 496.01,61.1 508.54,56.6 521.07,57.4 533.6,62.6 546.13,65.1 558.66,67.6 571.19,69.4 583.72,71.8 596.25,73 608.78,73.9 621.31,74.7 633.84,75.7 646.37,76 658.9,76.4" fill="none" stroke="#b8b8ff" stroke-width="2.0" stroke-linejoin="round"/>
<circle cx="408.3" cy="78.6" r="2.8" fill="#b8b8ff"/>
<circle cx="420.83" cy="76.6" r="2.8" fill="#b8b8ff"/>
<circle cx="433.36" cy="73.6" r="2.8" fill="#b8b8ff"/>
<circle cx="445.89" cy="71.1" r="2.8" fill="#b8b8ff"/>
<circle cx="458.42" cy="70.6" r="2.8" fill="#b8b8ff"/>
<circle cx="470.95" cy="67.6" r="2.8" fill="#b8b8ff"/>
<circle cx="483.48" cy="64.6" r="2.8" fill="#b8b8ff"/>
<circle cx="496.01" cy="61.1" r="2.8" fill="#b8b8ff"/>
<circle cx="508.54" cy="56.6" r="2.8" fill="#b8b8ff"/>
<circle cx="521.07" cy="57.4" r="2.8" fill="#b8b8ff"/>
<circle cx="533.6" cy="62.6" r="2.8" fill="#b8b8ff"/>
<circle cx="546.13" cy="65.1" r="2.8" fill="#b8b8ff"/>
<circle cx="558.66" cy="67.6" r="2.8" fill="#b8b8ff"/>
<circle cx="571.19" cy="69.4" r="2.8" fill="#b8b8ff"/>
<circle cx="583.72" cy="71.8" r="2.8" fill="#b8b8ff"/>
<circle cx="596.25" cy="73" r="2.8" fill="#b8b8ff"/>
<circle cx="608.78" cy="73.9" r="2.8" fill="#b8b8ff"/>
<circle cx="621.31" cy="74.7" r="2.8" fill="#b8b8ff"/>
<circle cx="633.84" cy="75.7" r="2.8" fill="#b8b8ff"/>
<circle cx="646.37" cy="76" r="2.8" fill="#b8b8ff"/>
<circle cx="658.9" cy="76.4" r="2.8" fill="#b8b8ff"/>
<polyline points="408.3,83.8 420.83,79.7 433.36,79.7 445.89,77.9 458.42,73.6 470.95,72 483.48,70.2 496.01,68.3 508.54,68.2 521.07,67.3 533.6,71.7 546.13,73 558.66,73.4 571.19,70.1 583.72,72.2 596.25,73.2 608.78,74 621.31,74.8 633.84,75.9 646.37,76 658.9,76.4" fill="none" stroke="#000000" stroke-width="2.0" stroke-linejoin="round"/>
<circle cx="408.3" cy="83.8" r="2.8" fill="#000000"/>
<circle cx="420.83" cy="79.7" r="2.8" fill="#000000"/>
<circle cx="433.36" cy="79.7" r="2.8" fill="#000000"/>
<circle cx="445.89" cy="77.9" r="2.8" fill="#000000"/>
<circle cx="458.42" cy="73.6" r="2.8" fill="#000000"/>
<circle cx="470.95" cy="72" r="2.8" fill="#000000"/>
<circle cx="483.48" cy="70.2" r="2.8" fill="#000000"/>
<circle cx="496.01" cy="68.3" r="2.8" fill="#000000"/>
<circle cx="508.54" cy="68.2" r="2.8" fill="#000000"/>
<circle cx="521.07" cy="67.3" r="2.8" fill="#000000"/>
<circle cx="533.6" cy="71.7" r="2.8" fill="#000000"/>
<circle cx="546.13" cy="73" r="2.8" fill="#000000"/>
<circle cx="558.66" cy="73.4" r="2.8" fill="#000000"/>
<circle cx="571.19" cy="70.1" r="2.8" fill="#000000"/>
<circle cx="583.72" cy="72.2" r="2.8" fill="#000000"/>
<circle cx="596.25" cy="73.2" r="2.8" fill="#000000"/>
<circle cx="608.78" cy="74" r="2.8" fill="#000000"/>
<circle cx="621.31" cy="74.8" r="2.8" fill="#000000"/>
<circle cx="633.84" cy="75.9" r="2.8" fill="#000000"/>
<circle cx="646.37" cy="76" r="2.8" fill="#000000"/>
<circle cx="658.9" cy="76.4" r="2.8" fill="#000000"/>
<polyline points="408.3,91.8 420.83,86.6 433.36,82.8 445.89,79.8 458.42,78.2 470.95,76.6 483.48,75.4 496.01,74.1 508.54,70.6 521.07,60.6 533.6,63.1 546.13,65.1 558.66,67.1 571.19,68.9 583.72,71.6 596.25,72.8 608.78,73.9 621.31,74.6 633.84,75.6 646.37,76.2 658.9,76.4" fill="none" stroke="#ffb0b0" stroke-width="2.0" stroke-linejoin="round"/>
<circle cx="408.3" cy="91.8" r="2.8" fill="#ffb0b0"/>
<circle cx="420.83" cy="86.6" r="2.8" fill="#ffb0b0"/>
<circle cx="433.36" cy="82.8" r="2.8" fill="#ffb0b0"/>
<circle cx="445.89" cy="79.8" r="2.8" fill="#ffb0b0"/>
<circle cx="458.42" cy="78.2" r="2.8" fill="#ffb0b0"/>
<circle cx="470.95" cy="76.6" r="2.8" fill="#ffb0b0"/>
<circle cx="483.48" cy="75.4" r="2.8" fill="#ffb0b0"/>
<circle cx="496.01" cy="74.1" r="2.8" fill="#ffb0b0"/>
<circle cx="508.54" cy="70.6" r="2.8" fill="#ffb0b0"/>
<circle cx="521.07" cy="60.6" r="2.8" fill="#ffb0b0"/>
<circle cx="533.6" cy="63.1" r="2.8" fill="#ffb0b0"/>
<circle cx="546.13" cy="65.1" r="2.8" fill="#ffb0b0"/>
<circle cx="558.66" cy="67.1" r="2.8" fill="#ffb0b0"/>
<circle cx="571.19" cy="68.9" r="2.8" fill="#ffb0b0"/>
<circle cx="583.72" cy="71.6" r="2.8" fill="#ffb0b0"/>
<circle cx="596.25" cy="72.8" r="2.8" fill="#ffb0b0"/>
<circle cx="608.78" cy="73.9" r="2.8" fill="#ffb0b0"/>
<circle cx="621.31" cy="74.6" r="2.8" fill="#ffb0b0"/>
<circle cx="633.84" cy="75.6" r="2.8" fill="#ffb0b0"/>
<circle cx="646.37" cy="76.2" r="2.8" fill="#ffb0b0"/>
<circle cx="658.9" cy="76.4" r="2.8" fill="#ffb0b0"/>
<polyline points="408.3,100.2 420.83,95.8 433.36,97.6 445.89,93.3 458.42,89.4 470.95,85.6 483.48,79.7 496.01,76.2 508.54,68.2 521.07,58.3 533.6,62.8 546.13,64.6 558.66,66.8 571.19,68.4 583.72,71.4 596.25,72.8 608.78,73.9 621.31,74.6 633.84,75.6 646.37,76.2 658.9,76.4" fill="none" stroke="#ff7070" stroke-width="2.0" stroke-linejoin="round"/>
<circle cx="408.3" cy="100.2" r="2.8" fill="#ff7070"/>
<circle cx="420.83" cy="95.8" r="2.8" fill="#ff7070"/>
<circle cx="433.36" cy="97.6" r="2.8" fill="#ff7070"/>
<circle cx="445.89" cy="93.3" r="2.8" fill="#ff7070"/>
<circle cx="458.42" cy="89.4" r="2.8" fill="#ff7070"/>
<circle cx="470.95" cy="85.6" r="2.8" fill="#ff7070"/>
<circle cx="483.48" cy="79.7" r="2.8" fill="#ff7070"/>
<circle cx="496.01" cy="76.2" r="2.8" fill="#ff7070"/>
<circle cx="508.54" cy="68.2" r="2.8" fill="#ff7070"/>
<circle cx="521.07" cy="58.3" r="2.8" fill="#ff7070"/>
<circle cx="533.6" cy="62.8" r="2.8" fill="#ff7070"/>
<circle cx="546.13" cy="64.6" r="2.8" fill="#ff7070"/>
<circle cx="558.66" cy="66.8" r="2.8" fill="#ff7070"/>
<circle cx="571.19" cy="68.4" r="2.8" fill="#ff7070"/>
<circle cx="583.72" cy="71.4" r="2.8" fill="#ff7070"/>
<circle cx="596.25" cy="72.8" r="2.8" fill="#ff7070"/>
<circle cx="608.78" cy="73.9" r="2.8" fill="#ff7070"/>
<circle cx="621.31" cy="74.6" r="2.8" fill="#ff7070"/>
<circle cx="633.84" cy="75.6" r="2.8" fill="#ff7070"/>
<circle cx="646.37" cy="76.2" r="2.8" fill="#ff7070"/>
<circle cx="658.9" cy="76.4" r="2.8" fill="#ff7070"/>
<polyline points="408.3,107.3 420.83,108.6 433.36,99.1 445.89,97.6 458.42,96.6 470.95,91.2 483.48,85.2 496.01,79.3 508.54,73.9 521.07,60.1 533.6,64.4 546.13,65.6 558.66,67.4 571.19,68.9 583.72,71.6 596.25,72.8 608.78,74.1 621.31,74.7 633.84,75.6 646.37,76.2 658.9,76.4" fill="none" stroke="#ff0000" stroke-width="2.0" stroke-linejoin="round"/>
<circle cx="408.3" cy="107.3" r="2.8" fill="#ff0000"/>
<circle cx="420.83" cy="108.6" r="2.8" fill="#ff0000"/>
<circle cx="433.36" cy="99.1" r="2.8" fill="#ff0000"/>
<circle cx="445.89" cy="97.6" r="2.8" fill="#ff0000"/>
<circle cx="458.42" cy="96.6" r="2.8" fill="#ff0000"/>
<circle cx="470.95" cy="91.2" r="2.8" fill="#ff0000"/>
<circle cx="483.48" cy="85.2" r="2.8" fill="#ff0000"/>
<circle cx="496.01" cy="79.3" r="2.8" fill="#ff0000"/>
<circle cx="508.54" cy="73.9" r="2.8" fill="#ff0000"/>
<circle cx="521.07" cy="60.1" r="2.8" fill="#ff0000"/>
<circle cx="533.6" cy="64.4" r="2.8" fill="#ff0000"/>
<circle cx="546.13" cy="65.6" r="2.8" fill="#ff0000"/>
<circle cx="558.66" cy="67.4" r="2.8" fill="#ff0000"/>
<circle cx="571.19" cy="68.9" r="2.8" fill="#ff0000"/>
<circle cx="583.72" cy="71.6" r="2.8" fill="#ff0000"/>
<circle cx="596.25" cy="72.8" r="2.8" fill="#ff0000"/>
<circle cx="608.78" cy="74.1" r="2.8" fill="#ff0000"/>
<circle cx="621.31" cy="74.7" r="2.8" fill="#ff0000"/>
<circle cx="633.84" cy="75.6" r="2.8" fill="#ff0000"/>
<circle cx="646.37" cy="76.2" r="2.8" fill="#ff0000"/>
<circle cx="658.9" cy="76.4" r="2.8" fill="#ff0000"/>
</g>
<rect x="396.1" y="7.8" width="287.3" height="134.4" fill="none" stroke="#333" stroke-width="0.9"/>
<line x1="408.3" y1="142.2" x2="408.3" y2="138.9" stroke="#333" stroke-width="0.8"/>
<line x1="470.95" y1="142.2" x2="470.95" y2="138.9" stroke="#333" stroke-width="0.8"/>
<line x1="533.6" y1="142.2" x2="533.6" y2="138.9" stroke="#333" stroke-width="0.8"/>
<line x1="596.25" y1="142.2" x2="596.25" y2="138.9" stroke="#333" stroke-width="0.8"/>
<line x1="658.9" y1="142.2" x2="658.9" y2="138.9" stroke="#333" stroke-width="0.8"/>
<line x1="439.62" y1="142.2" x2="439.62" y2="140.4" stroke="#333" stroke-width="0.8"/>
<line x1="502.27" y1="142.2" x2="502.27" y2="140.4" stroke="#333" stroke-width="0.8"/>
<line x1="564.92" y1="142.2" x2="564.92" y2="140.4" stroke="#333" stroke-width="0.8"/>
<line x1="627.58" y1="142.2" x2="627.58" y2="140.4" stroke="#333" stroke-width="0.8"/>
<line x1="396.1" y1="14.1" x2="399.4" y2="14.1" stroke="#333" stroke-width="0.8"/>
<line x1="396.1" y1="44.6" x2="399.4" y2="44.6" stroke="#333" stroke-width="0.8"/>
<line x1="396.1" y1="75.1" x2="399.4" y2="75.1" stroke="#333" stroke-width="0.8"/>
<line x1="396.1" y1="105.6" x2="399.4" y2="105.6" stroke="#333" stroke-width="0.8"/>
<line x1="396.1" y1="136.1" x2="399.4" y2="136.1" stroke="#333" stroke-width="0.8"/>
<line x1="396.1" y1="29.35" x2="397.9" y2="29.35" stroke="#333" stroke-width="0.8"/>
<line x1="396.1" y1="59.85" x2="397.9" y2="59.85" stroke="#333" stroke-width="0.8"/>
<line x1="396.1" y1="90.35" x2="397.9" y2="90.35" stroke="#333" stroke-width="0.8"/>
<line x1="396.1" y1="120.85" x2="397.9" y2="120.85" stroke="#333" stroke-width="0.8"/>
<text x="408.3" y="153.4" font-size="9.5" text-anchor="middle">0</text>
<text x="470.95" y="153.4" font-size="9.5" text-anchor="middle">5</text>
<text x="533.6" y="153.4" font-size="9.5" text-anchor="middle">10</text>
<text x="596.25" y="153.4" font-size="9.5" text-anchor="middle">15</text>
<text x="658.9" y="153.4" font-size="9.5" text-anchor="middle">20</text>
<text x="391.8" y="16.9" font-size="9.2" text-anchor="end">100</text>
<text x="391.8" y="47.4" font-size="9.2" text-anchor="end">50</text>
<text x="391.8" y="77.9" font-size="9.2" text-anchor="end">0</text>
<text x="391.8" y="108.4" font-size="9.2" text-anchor="end">-50</text>
<text x="391.8" y="138.9" font-size="9.2" text-anchor="end">-100</text>
<text x="501.4" y="172.5" font-size="12.6">Layer number</text>
<text transform="translate(363.3,85.4) rotate(-90)" font-size="12.6" text-anchor="middle">Polarization (μC/cm<tspan font-size="7.5" dy="-4.5">2</tspan><tspan dy="4.5">)</tspan></text>
<text x="353.6" y="12.4" font-size="15" font-weight="bold">b</text>
<text x="486.7" y="23.7" font-size="10.6">LaAlO<tspan font-size="7.5" dy="2.6">3</tspan></text>
<text x="558.8" y="23.7" font-size="10.6">SrTiO<tspan font-size="7.5" dy="2.6">3</tspan></text>
<text x="422.5" y="28.6" font-size="12" font-weight="bold" font-style="italic" fill="#1010ee">P</text>
<path d="M439.2 24.3 L449.7 17.9 L449.7 21.1 L473.6 21.1 L473.6 27.5 L449.7 27.5 L449.7 30.8 Z" fill="#1010ee"/>
<text x="423.3" y="129.5" font-size="12" font-weight="bold" font-style="italic" fill="#ff1010">P</text>
<path d="M475.4 127.1 L465.8 121.2 L465.8 124.1 L441.8 124.1 L441.8 130 L465.8 130 L465.8 132.8 Z" fill="#ff1010"/>
<rect x="641.2" y="12.4" width="38.9" height="80" fill="#fff" stroke="#333" stroke-width="0.8"/>
<g opacity="0.55">
<path d="M646.37 66.5V82.5M644.17 66.5H648.57M644.17 82.5H648.57" stroke="#c8c8ff" stroke-width="0.7" fill="none"/>
<path d="M658.9 65.8V81.8M656.7 65.8H661.1M656.7 81.8H661.1" stroke="#c8c8ff" stroke-width="0.7" fill="none"/>
<polyline points="641.36,76 646.37,74.5 658.9,73.8" fill="none" stroke="#b8b8ff" stroke-width="2"/>
<circle cx="646.37" cy="74.5" r="2.8" fill="#b8b8ff"/>
<circle cx="658.9" cy="73.8" r="2.8" fill="#b8b8ff"/>
<path d="M646.37 67.2V81.2M644.17 67.2H648.57M644.17 81.2H648.57" stroke="#ffc0c0" stroke-width="0.7" fill="none"/>
<path d="M658.9 66.5V80.5M656.7 66.5H661.1M656.7 80.5H661.1" stroke="#ffc0c0" stroke-width="0.7" fill="none"/>
<polyline points="641.36,76 646.37,74.2 658.9,73.5" fill="none" stroke="#ffb0b0" stroke-width="2"/>
<circle cx="646.37" cy="74.2" r="2.8" fill="#ffb0b0"/>
<circle cx="658.9" cy="73.5" r="2.8" fill="#ffb0b0"/>
<polyline points="641.36,76.2 646.37,76 658.9,76" fill="none" stroke="#ff7070" stroke-width="2"/>
<circle cx="646.37" cy="76" r="2.8" fill="#ff7070"/>
<circle cx="658.9" cy="76" r="2.8" fill="#ff7070"/>
</g>
<line x1="645.4" y1="19.8" x2="667.2" y2="19.8" stroke="#0000ff" stroke-width="2.0"/>
<circle cx="656.3" cy="19.8" r="2.3" fill="#0000ff"/>
<text x="677.6" y="23.2" font-size="9.6" text-anchor="end">-3</text>
<line x1="645.4" y1="31.1" x2="667.2" y2="31.1" stroke="#7878ff" stroke-width="2.6"/>
<circle cx="656.3" cy="31.1" r="2.7" fill="#7878ff"/>
<text x="677.6" y="34.5" font-size="9.6" text-anchor="end">-2</text>
<line x1="645.4" y1="42.6" x2="667.2" y2="42.6" stroke="#b8b8ff" stroke-width="2.6"/>
<circle cx="656.3" cy="42.6" r="2.7" fill="#b8b8ff"/>
<text x="677.6" y="46" font-size="9.6" text-anchor="end">-1</text>
<line x1="645.4" y1="54.1" x2="667.2" y2="54.1" stroke="#000000" stroke-width="2.0"/>
<circle cx="656.3" cy="54.1" r="2.3" fill="#000000"/>
<text x="677.6" y="57.5" font-size="9.6" text-anchor="end">0</text>
<line x1="645.4" y1="65.4" x2="667.2" y2="65.4" stroke="#ffb0b0" stroke-width="3.0"/>
<circle cx="656.3" cy="65.4" r="2.7" fill="#ffb0b0"/>
<text x="677.6" y="68.8" font-size="9.6" text-anchor="end">1</text>
<line x1="645.4" y1="76.3" x2="667.2" y2="76.3" stroke="#ff7070" stroke-width="3.0"/>
<circle cx="656.3" cy="76.3" r="2.7" fill="#ff7070"/>
<text x="677.6" y="79.7" font-size="9.6" text-anchor="end">2</text>
<line x1="645.4" y1="87.2" x2="667.2" y2="87.2" stroke="#ff0000" stroke-width="2.0"/>
<circle cx="656.3" cy="87.2" r="2.3" fill="#ff0000"/>
<text x="677.6" y="90.6" font-size="9.6" text-anchor="end">3</text>
<line x1="215.1" y1="218.1" x2="507.4" y2="218.1" stroke="#c8c8c8" stroke-width="0.6" stroke-dasharray="1.5,1.5"/>
<line x1="215.1" y1="247.7" x2="507.4" y2="247.7" stroke="#c8c8c8" stroke-width="0.6" stroke-dasharray="1.5,1.5"/>
<line x1="215.1" y1="306.9" x2="507.4" y2="306.9" stroke="#c8c8c8" stroke-width="0.6" stroke-dasharray="1.5,1.5"/>
<line x1="215.1" y1="336.5" x2="507.4" y2="336.5" stroke="#c8c8c8" stroke-width="0.6" stroke-dasharray="1.5,1.5"/>
<line x1="263.65" y1="194.2" x2="263.65" y2="359.5" stroke="#c8c8c8" stroke-width="0.6" stroke-dasharray="1.5,1.5"/>
<line x1="312.35" y1="194.2" x2="312.35" y2="359.5" stroke="#c8c8c8" stroke-width="0.6" stroke-dasharray="1.5,1.5"/>
<line x1="361.05" y1="194.2" x2="361.05" y2="359.5" stroke="#c8c8c8" stroke-width="0.6" stroke-dasharray="1.5,1.5"/>
<line x1="409.7" y1="194.2" x2="409.7" y2="359.5" stroke="#c8c8c8" stroke-width="0.6" stroke-dasharray="1.5,1.5"/>
<line x1="458.3" y1="194.2" x2="458.3" y2="359.5" stroke="#c8c8c8" stroke-width="0.6" stroke-dasharray="1.5,1.5"/>
<rect x="218.8" y="229.2" width="41" height="48.1" fill="#ff6f6f" stroke="#6a6a6a" stroke-width="0.5"/>
<rect x="218.8" y="262.7" width="41" height="14.6" fill="#7272ff" stroke="#5a5a6a" stroke-width="0.5"/>
<rect x="267.5" y="254.7" width="41" height="22.6" fill="#ff6f6f" stroke="#6a6a6a" stroke-width="0.5"/>
<rect x="267.5" y="267" width="41" height="10.3" fill="#7272ff" stroke="#5a5a6a" stroke-width="0.5"/>
<rect x="316.2" y="262.4" width="41" height="14.9" fill="#ff6f6f" stroke="#6a6a6a" stroke-width="0.5"/>
<rect x="316.2" y="272.2" width="41" height="5.1" fill="#7272ff" stroke="#5a5a6a" stroke-width="0.5"/>
<rect x="364.9" y="277.3" width="41" height="11.8" fill="#ff6f6f" stroke="#6a6a6a" stroke-width="0.5"/>
<rect x="364.9" y="277.3" width="41" height="4.9" fill="#7272ff" stroke="#5a5a6a" stroke-width="0.5"/>
<rect x="413.5" y="277.3" width="41" height="29.5" fill="#ff6f6f" stroke="#6a6a6a" stroke-width="0.5"/>
<rect x="413.5" y="277.3" width="41" height="9.5" fill="#7272ff" stroke="#5a5a6a" stroke-width="0.5"/>
<rect x="462.1" y="277.3" width="41" height="43.3" fill="#ff6f6f" stroke="#6a6a6a" stroke-width="0.5"/>
<rect x="462.1" y="277.3" width="41" height="14.5" fill="#7272ff" stroke="#5a5a6a" stroke-width="0.5"/>
<line x1="215.1" y1="277.3" x2="507.4" y2="277.3" stroke="#333" stroke-width="0.9"/>
<polyline points="239.3,262 288,266.7 336.7,270.6 385.4,286.6 434,299.4 482.6,320" fill="none" stroke="#00ee00" stroke-width="2.6" stroke-linejoin="round"/>
<circle cx="239.3" cy="262" r="4.3" fill="url(#ballG)"/>
<circle cx="288" cy="266.7" r="4.3" fill="url(#ballG)"/>
<circle cx="336.7" cy="270.6" r="4.3" fill="url(#ballG)"/>
<circle cx="385.4" cy="286.6" r="4.3" fill="url(#ballG)"/>
<circle cx="434" cy="299.4" r="4.3" fill="url(#ballG)"/>
<circle cx="482.6" cy="320" r="4.3" fill="url(#ballG)"/>
<polyline points="239.3,230.8 288,243.1 336.7,268.7 385.4,290.5 434,307.4 482.6,325.9" fill="none" stroke="#000" stroke-width="2.6" stroke-linejoin="round"/>
<circle cx="239.3" cy="230.8" r="4.6" fill="url(#ballK)"/>
<circle cx="288" cy="243.1" r="4.6" fill="url(#ballK)"/>
<circle cx="336.7" cy="268.7" r="4.6" fill="url(#ballK)"/>
<circle cx="385.4" cy="290.5" r="4.6" fill="url(#ballK)"/>
<circle cx="434" cy="307.4" r="4.6" fill="url(#ballK)"/>
<circle cx="482.6" cy="325.9" r="4.6" fill="url(#ballK)"/>
<rect x="215.1" y="194.2" width="292.3" height="165.3" fill="none" stroke="#333" stroke-width="0.9"/>
<line x1="239.3" y1="359.5" x2="239.3" y2="356.2" stroke="#333" stroke-width="0.8"/>
<line x1="288" y1="359.5" x2="288" y2="356.2" stroke="#333" stroke-width="0.8"/>
<line x1="336.7" y1="359.5" x2="336.7" y2="356.2" stroke="#333" stroke-width="0.8"/>
<line x1="385.4" y1="359.5" x2="385.4" y2="356.2" stroke="#333" stroke-width="0.8"/>
<line x1="434" y1="359.5" x2="434" y2="356.2" stroke="#333" stroke-width="0.8"/>
<line x1="482.6" y1="359.5" x2="482.6" y2="356.2" stroke="#333" stroke-width="0.8"/>
<line x1="263.65" y1="359.5" x2="263.65" y2="357.7" stroke="#333" stroke-width="0.8"/>
<line x1="312.35" y1="359.5" x2="312.35" y2="357.7" stroke="#333" stroke-width="0.8"/>
<line x1="361.05" y1="359.5" x2="361.05" y2="357.7" stroke="#333" stroke-width="0.8"/>
<line x1="409.7" y1="359.5" x2="409.7" y2="357.7" stroke="#333" stroke-width="0.8"/>
<line x1="458.3" y1="359.5" x2="458.3" y2="357.7" stroke="#333" stroke-width="0.8"/>
<line x1="215.1" y1="218.1" x2="218.4" y2="218.1" stroke="#333" stroke-width="0.8"/>
<line x1="215.1" y1="277.3" x2="218.4" y2="277.3" stroke="#333" stroke-width="0.8"/>
<line x1="215.1" y1="336.5" x2="218.4" y2="336.5" stroke="#333" stroke-width="0.8"/>
<line x1="215.1" y1="247.7" x2="216.9" y2="247.7" stroke="#333" stroke-width="0.8"/>
<line x1="215.1" y1="306.9" x2="216.9" y2="306.9" stroke="#333" stroke-width="0.8"/>
<text x="239.3" y="370.6" font-size="8.8" text-anchor="middle">-3</text>
<text x="288" y="370.6" font-size="8.8" text-anchor="middle">-2</text>
<text x="336.7" y="370.6" font-size="8.8" text-anchor="middle">-1</text>
<text x="385.4" y="370.6" font-size="8.8" text-anchor="middle">1</text>
<text x="434" y="370.6" font-size="8.8" text-anchor="middle">2</text>
<text x="482.6" y="370.6" font-size="8.8" text-anchor="middle">3</text>
<text x="211" y="221" font-size="8.5" text-anchor="end">0.5</text>
<text x="211" y="280.2" font-size="8.5" text-anchor="end">0.0</text>
<text x="211" y="339.4" font-size="8.5" text-anchor="end">-0.5</text>
<text x="304.5" y="386.8" font-size="12.6">Voltage difference (V)</text>
<text transform="translate(192.6,274.5) rotate(-90)" font-size="11.5" text-anchor="middle">Charge modulation (e<tspan font-size="7" dy="-4.5">-</tspan><tspan dy="4.5">/a</tspan><tspan font-size="7" dy="-4.5">2</tspan><tspan dy="4.5">)</tspan></text>
<text x="183.4" y="200.5" font-size="15" font-weight="bold">c</text>
<rect x="411.4" y="199.8" width="91.8" height="66.6" fill="#fff" stroke="#333" stroke-width="0.8"/>
<line x1="418.2" y1="209" x2="442.6" y2="209" stroke="#000" stroke-width="2.4"/>
<circle cx="430.2" cy="209" r="3.4" fill="url(#ballK)"/>
<text x="445.5" y="212.6" font-size="10.1">Holography</text>
<line x1="418.2" y1="224.2" x2="442.6" y2="224.2" stroke="#00ee00" stroke-width="2.4"/>
<circle cx="430.2" cy="224.2" r="3.4" fill="url(#ballG)"/>
<text x="445.5" y="227.8" font-size="10.1">Ti<tspan font-size="6" dy="-4.8">3+</tspan><tspan dy="4.8"> fraction</tspan></text>
<rect x="419.3" y="231.5" width="22.5" height="10.9" fill="#7272ff" stroke="#555" stroke-width="0.5"/>
<rect x="419.3" y="248.9" width="22.5" height="10.7" fill="#ff6f6f" stroke="#555" stroke-width="0.5"/>
<text x="445.5" y="241" font-size="10.1" font-style="italic">ε<tspan font-size="6.5" dy="2">0</tspan><tspan dy="-2">ε</tspan><tspan font-size="6.5" dy="2">r</tspan><tspan dy="-2">E</tspan><tspan font-size="6.5" dy="3" font-style="normal">net</tspan></text>
<text x="445.5" y="258.4" font-size="10.1" font-style="italic">ε<tspan font-size="6.5" dy="2">0</tspan><tspan dy="-2">ε</tspan><tspan font-size="6.5" dy="2">r</tspan><tspan dy="-2">E</tspan><tspan font-size="6.5" dy="3" font-style="normal">net</tspan><tspan dy="-3" font-style="normal">+</tspan>P</text>
<text x="229.2" y="300.5" style="font-family:&quot;Liberation Serif&quot;, serif" font-size="12.5" font-style="italic">D<tspan font-size="7" dy="2">LAO</tspan><tspan dy="-2" font-style="normal"> = </tspan><tspan fill="#6a6aff" letter-spacing="0.45">ε<tspan font-size="7" dy="2">o</tspan><tspan dy="-2">ε</tspan><tspan font-size="7" dy="2">r</tspan><tspan dy="-2" font-size="13.5">E</tspan><tspan font-size="7" dy="2">net</tspan></tspan><tspan dy="-2" font-style="normal" x="303">+</tspan></text>
<text x="311.3" y="300.5" style="font-family:&quot;Liberation Serif&quot;, serif" font-size="12.5" font-style="italic" fill="#ff7070">P<tspan font-size="7" dy="2">ion</tspan></text>
<rect x="308.7" y="287.2" width="21.9" height="16.8" fill="none" stroke="#ff5050" stroke-width="0.8"/>
<line x1="231.3" y1="328.1" x2="241.5" y2="328.1" stroke="#999" stroke-width="0.9"/>
<line x1="316.3" y1="328.1" x2="326.9" y2="328.1" stroke="#555" stroke-width="0.9"/>
<rect x="248.3" y="307.2" width="61.2" height="41.4" fill="#ffe08c" stroke="#333" stroke-width="0.6"/>
<rect x="241.5" y="307.2" width="6.8" height="41.4" fill="#70c8ff" stroke="#333" stroke-width="0.6"/>
<rect x="309.5" y="307.2" width="6.8" height="41.4" fill="#ff0000" stroke="#333" stroke-width="0.6"/>
<line x1="258.9" y1="312.2" x2="295" y2="312.2" stroke="#ff7070" stroke-width="1"/>
<path d="M297.8 312.2L293.5 310.5L293.5 313.9Z" fill="#ff7070"/>
<line x1="258.9" y1="328.1" x2="295" y2="328.1" stroke="#ff7070" stroke-width="1"/>
<path d="M297.8 328.1L293.5 326.4L293.5 329.8Z" fill="#ff7070"/>
<line x1="258.9" y1="344.1" x2="295" y2="344.1" stroke="#ff7070" stroke-width="1"/>
<path d="M297.8 344.1L293.5 342.4L293.5 345.8Z" fill="#ff7070"/>
<line x1="268.1" y1="320" x2="286" y2="320" stroke="#6060ff" stroke-width="1"/>
<path d="M288.6 320L284.3 318.3L284.3 321.7Z" fill="#6060ff"/>
<line x1="268.1" y1="335.7" x2="286" y2="335.7" stroke="#6060ff" stroke-width="1"/>
<path d="M288.6 335.7L284.3 334L284.3 337.4Z" fill="#6060ff"/>
</svg></body></html>
